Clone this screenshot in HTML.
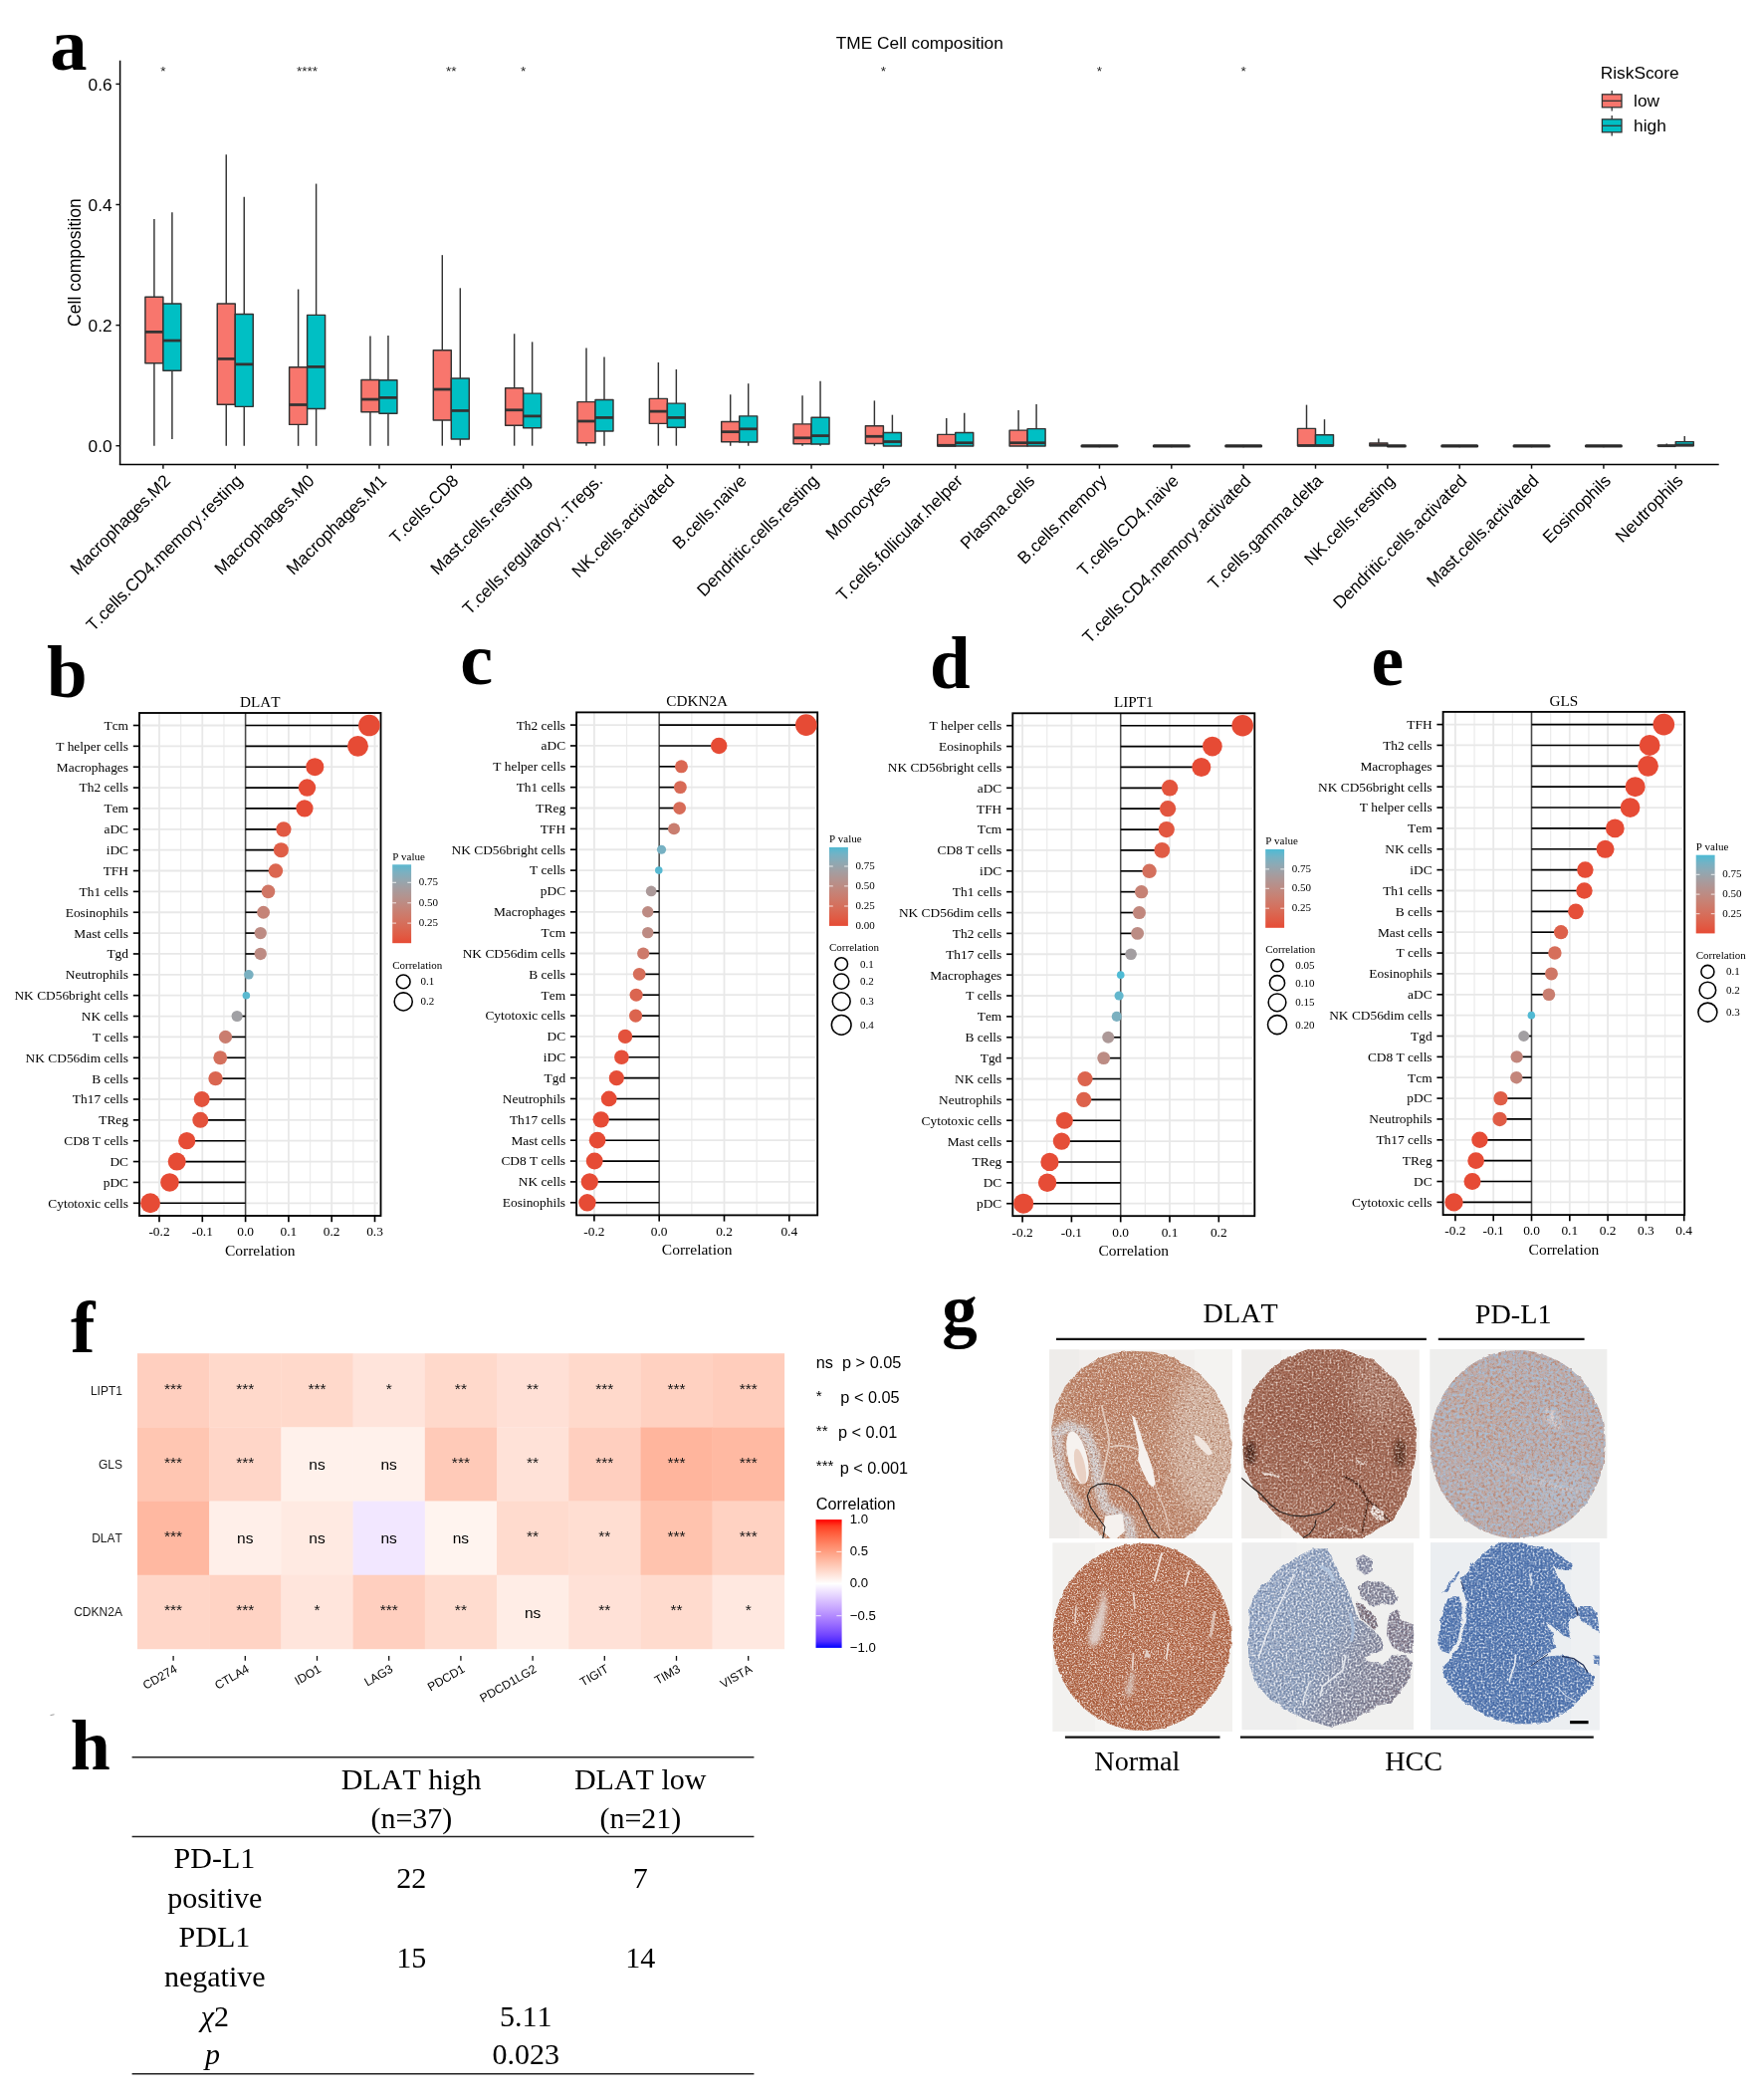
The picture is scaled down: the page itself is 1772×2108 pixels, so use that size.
<!DOCTYPE html>
<html><head><meta charset="utf-8"><title>Figure</title>
<style>
html,body{margin:0;padding:0;background:#fff;}
body{width:1772px;height:2108px;overflow:hidden;font-family:"Liberation Sans",sans-serif;}
svg{display:block;will-change:transform;}
text{white-space:pre;font-kerning:none;}
</style></head><body>
<svg width="1772" height="2108" viewBox="0 0 1772 2108">
<g id="panel-a">
<text x="50.3" y="70.1" font-family='"Liberation Serif", serif' font-size="74.5" text-anchor="start" fill="#000" font-weight="bold">a</text>
<text x="923.8" y="49" font-family='"Liberation Sans", sans-serif' font-size="17.3" text-anchor="middle" fill="#000" >TME Cell composition</text>
<line x1="120.6" y1="60.8" x2="120.6" y2="466.95" stroke="#000" stroke-width="1.5" />
<line x1="119.85" y1="466.5" x2="1726.7" y2="466.5" stroke="#000" stroke-width="1.5" />
<line x1="116.4" y1="447.7" x2="120.6" y2="447.7" stroke="#111" stroke-width="1.45" />
<text x="112.6" y="453.9" font-family='"Liberation Sans", sans-serif' font-size="17.3" text-anchor="end" fill="#000" >0.0</text>
<line x1="116.4" y1="326.6" x2="120.6" y2="326.6" stroke="#111" stroke-width="1.45" />
<text x="112.6" y="332.8" font-family='"Liberation Sans", sans-serif' font-size="17.3" text-anchor="end" fill="#000" >0.2</text>
<line x1="116.4" y1="205.5" x2="120.6" y2="205.5" stroke="#111" stroke-width="1.45" />
<text x="112.6" y="211.7" font-family='"Liberation Sans", sans-serif' font-size="17.3" text-anchor="end" fill="#000" >0.4</text>
<line x1="116.4" y1="84.4" x2="120.6" y2="84.4" stroke="#111" stroke-width="1.45" />
<text x="112.6" y="90.6" font-family='"Liberation Sans", sans-serif' font-size="17.3" text-anchor="end" fill="#000" >0.6</text>
<text transform="translate(80.9,263.6) rotate(-90)" font-family='"Liberation Sans", sans-serif' font-size="17.55" text-anchor="middle" fill="#000">Cell composition</text>
<line x1="154.9" y1="219.93" x2="154.9" y2="298.16" stroke="#333333" stroke-width="1.45" />
<line x1="154.9" y1="364.83" x2="154.9" y2="447.82" stroke="#333333" stroke-width="1.45" />
<rect x="145.9" y="298.16" width="18" height="66.67" fill="#F8766D" stroke="#333333" stroke-width="1.45" stroke-linejoin="round"/>
<line x1="145.9" y1="333.37" x2="163.9" y2="333.37" stroke="#333333" stroke-width="2.75" />
<line x1="172.9" y1="213.13" x2="172.9" y2="304.97" stroke="#333333" stroke-width="1.45" />
<line x1="172.9" y1="372.31" x2="172.9" y2="441.02" stroke="#333333" stroke-width="1.45" />
<rect x="163.9" y="304.97" width="18" height="67.35" fill="#00BFC4" stroke="#333333" stroke-width="1.45" stroke-linejoin="round"/>
<line x1="163.9" y1="342.04" x2="181.9" y2="342.04" stroke="#333333" stroke-width="2.75" />
<line x1="163.9" y1="466.2" x2="163.9" y2="470.7" stroke="#111" stroke-width="1.45" />
<text transform="translate(172.2,483.9) rotate(-45)" font-family='"Liberation Sans", sans-serif' font-size="17.3" text-anchor="end" fill="#000">Macrophages.M2</text>
<line x1="227.25" y1="155.31" x2="227.25" y2="304.97" stroke="#333333" stroke-width="1.45" />
<line x1="227.25" y1="406.33" x2="227.25" y2="447.82" stroke="#333333" stroke-width="1.45" />
<rect x="218.25" y="304.97" width="18" height="101.36" fill="#F8766D" stroke="#333333" stroke-width="1.45" stroke-linejoin="round"/>
<line x1="218.25" y1="360.41" x2="236.25" y2="360.41" stroke="#333333" stroke-width="2.75" />
<line x1="245.25" y1="197.82" x2="245.25" y2="315.51" stroke="#333333" stroke-width="1.45" />
<line x1="245.25" y1="408.37" x2="245.25" y2="447.82" stroke="#333333" stroke-width="1.45" />
<rect x="236.25" y="315.51" width="18" height="92.86" fill="#00BFC4" stroke="#333333" stroke-width="1.45" stroke-linejoin="round"/>
<line x1="236.25" y1="365.85" x2="254.25" y2="365.85" stroke="#333333" stroke-width="2.75" />
<line x1="236.25" y1="466.2" x2="236.25" y2="470.7" stroke="#111" stroke-width="1.45" />
<text transform="translate(244.55,483.9) rotate(-45)" font-family='"Liberation Sans", sans-serif' font-size="17.3" text-anchor="end" fill="#000">T.cells.CD4.memory.resting</text>
<line x1="299.6" y1="290.51" x2="299.6" y2="368.74" stroke="#333333" stroke-width="1.45" />
<line x1="299.6" y1="426.39" x2="299.6" y2="447.82" stroke="#333333" stroke-width="1.45" />
<rect x="290.6" y="368.74" width="18" height="57.65" fill="#F8766D" stroke="#333333" stroke-width="1.45" stroke-linejoin="round"/>
<line x1="290.6" y1="406.5" x2="308.6" y2="406.5" stroke="#333333" stroke-width="2.75" />
<line x1="317.6" y1="184.56" x2="317.6" y2="316.36" stroke="#333333" stroke-width="1.45" />
<line x1="317.6" y1="410.41" x2="317.6" y2="447.82" stroke="#333333" stroke-width="1.45" />
<rect x="308.6" y="316.36" width="18" height="94.05" fill="#00BFC4" stroke="#333333" stroke-width="1.45" stroke-linejoin="round"/>
<line x1="308.6" y1="368.4" x2="326.6" y2="368.4" stroke="#333333" stroke-width="2.75" />
<line x1="308.6" y1="466.2" x2="308.6" y2="470.7" stroke="#111" stroke-width="1.45" />
<text transform="translate(316.9,483.9) rotate(-45)" font-family='"Liberation Sans", sans-serif' font-size="17.3" text-anchor="end" fill="#000">Macrophages.M0</text>
<line x1="371.95" y1="337.62" x2="371.95" y2="381.5" stroke="#333333" stroke-width="1.45" />
<line x1="371.95" y1="413.81" x2="371.95" y2="447.82" stroke="#333333" stroke-width="1.45" />
<rect x="362.95" y="381.5" width="18" height="32.31" fill="#F8766D" stroke="#333333" stroke-width="1.45" stroke-linejoin="round"/>
<line x1="362.95" y1="401.05" x2="380.95" y2="401.05" stroke="#333333" stroke-width="2.75" />
<line x1="389.95" y1="336.94" x2="389.95" y2="381.67" stroke="#333333" stroke-width="1.45" />
<line x1="389.95" y1="415.34" x2="389.95" y2="447.82" stroke="#333333" stroke-width="1.45" />
<rect x="380.95" y="381.67" width="18" height="33.67" fill="#00BFC4" stroke="#333333" stroke-width="1.45" stroke-linejoin="round"/>
<line x1="380.95" y1="399.35" x2="398.95" y2="399.35" stroke="#333333" stroke-width="2.75" />
<line x1="380.95" y1="466.2" x2="380.95" y2="470.7" stroke="#111" stroke-width="1.45" />
<text transform="translate(389.25,483.9) rotate(-45)" font-family='"Liberation Sans", sans-serif' font-size="17.3" text-anchor="end" fill="#000">Macrophages.M1</text>
<line x1="444.3" y1="256.16" x2="444.3" y2="351.73" stroke="#333333" stroke-width="1.45" />
<line x1="444.3" y1="421.97" x2="444.3" y2="447.65" stroke="#333333" stroke-width="1.45" />
<rect x="435.3" y="351.73" width="18" height="70.24" fill="#F8766D" stroke="#333333" stroke-width="1.45" stroke-linejoin="round"/>
<line x1="435.3" y1="391.02" x2="453.3" y2="391.02" stroke="#333333" stroke-width="2.75" />
<line x1="462.3" y1="289.32" x2="462.3" y2="379.97" stroke="#333333" stroke-width="1.45" />
<line x1="462.3" y1="441.02" x2="462.3" y2="447.65" stroke="#333333" stroke-width="1.45" />
<rect x="453.3" y="379.97" width="18" height="61.05" fill="#00BFC4" stroke="#333333" stroke-width="1.45" stroke-linejoin="round"/>
<line x1="453.3" y1="412.45" x2="471.3" y2="412.45" stroke="#333333" stroke-width="2.75" />
<line x1="453.3" y1="466.2" x2="453.3" y2="470.7" stroke="#111" stroke-width="1.45" />
<text transform="translate(461.6,483.9) rotate(-45)" font-family='"Liberation Sans", sans-serif' font-size="17.3" text-anchor="end" fill="#000">T.cells.CD8</text>
<line x1="516.65" y1="335.24" x2="516.65" y2="389.66" stroke="#333333" stroke-width="1.45" />
<line x1="516.65" y1="427.24" x2="516.65" y2="447.65" stroke="#333333" stroke-width="1.45" />
<rect x="507.65" y="389.66" width="18" height="37.59" fill="#F8766D" stroke="#333333" stroke-width="1.45" stroke-linejoin="round"/>
<line x1="507.65" y1="411.77" x2="525.65" y2="411.77" stroke="#333333" stroke-width="2.75" />
<line x1="534.65" y1="343.4" x2="534.65" y2="395.1" stroke="#333333" stroke-width="1.45" />
<line x1="534.65" y1="429.8" x2="534.65" y2="447.65" stroke="#333333" stroke-width="1.45" />
<rect x="525.65" y="395.1" width="18" height="34.69" fill="#00BFC4" stroke="#333333" stroke-width="1.45" stroke-linejoin="round"/>
<line x1="525.65" y1="417.89" x2="543.65" y2="417.89" stroke="#333333" stroke-width="2.75" />
<line x1="525.65" y1="466.2" x2="525.65" y2="470.7" stroke="#111" stroke-width="1.45" />
<text transform="translate(533.95,483.9) rotate(-45)" font-family='"Liberation Sans", sans-serif' font-size="17.3" text-anchor="end" fill="#000">Mast.cells.resting</text>
<line x1="589" y1="349.52" x2="589" y2="403.61" stroke="#333333" stroke-width="1.45" />
<line x1="589" y1="444.76" x2="589" y2="447.65" stroke="#333333" stroke-width="1.45" />
<rect x="580" y="403.61" width="18" height="41.16" fill="#F8766D" stroke="#333333" stroke-width="1.45" stroke-linejoin="round"/>
<line x1="580" y1="422.99" x2="598" y2="422.99" stroke="#333333" stroke-width="2.75" />
<line x1="607" y1="358.54" x2="607" y2="401.56" stroke="#333333" stroke-width="1.45" />
<line x1="607" y1="433.03" x2="607" y2="447.65" stroke="#333333" stroke-width="1.45" />
<rect x="598" y="401.56" width="18" height="31.46" fill="#00BFC4" stroke="#333333" stroke-width="1.45" stroke-linejoin="round"/>
<line x1="598" y1="419.42" x2="616" y2="419.42" stroke="#333333" stroke-width="2.75" />
<line x1="598" y1="466.2" x2="598" y2="470.7" stroke="#111" stroke-width="1.45" />
<text transform="translate(606.3,483.9) rotate(-45)" font-family='"Liberation Sans", sans-serif' font-size="17.3" text-anchor="end" fill="#000">T.cells.regulatory..Tregs.</text>
<line x1="661.35" y1="363.98" x2="661.35" y2="400.37" stroke="#333333" stroke-width="1.45" />
<line x1="661.35" y1="425.37" x2="661.35" y2="447.65" stroke="#333333" stroke-width="1.45" />
<rect x="652.35" y="400.37" width="18" height="25" fill="#F8766D" stroke="#333333" stroke-width="1.45" stroke-linejoin="round"/>
<line x1="652.35" y1="413.13" x2="670.35" y2="413.13" stroke="#333333" stroke-width="2.75" />
<line x1="679.35" y1="370.95" x2="679.35" y2="405.14" stroke="#333333" stroke-width="1.45" />
<line x1="679.35" y1="429.29" x2="679.35" y2="447.65" stroke="#333333" stroke-width="1.45" />
<rect x="670.35" y="405.14" width="18" height="24.15" fill="#00BFC4" stroke="#333333" stroke-width="1.45" stroke-linejoin="round"/>
<line x1="670.35" y1="419.42" x2="688.35" y2="419.42" stroke="#333333" stroke-width="2.75" />
<line x1="670.35" y1="466.2" x2="670.35" y2="470.7" stroke="#111" stroke-width="1.45" />
<text transform="translate(678.65,483.9) rotate(-45)" font-family='"Liberation Sans", sans-serif' font-size="17.3" text-anchor="end" fill="#000">NK.cells.activated</text>
<line x1="733.7" y1="396.26" x2="733.7" y2="423.47" stroke="#333333" stroke-width="1.45" />
<line x1="733.7" y1="443.71" x2="733.7" y2="447.79" stroke="#333333" stroke-width="1.45" />
<rect x="724.7" y="423.47" width="18" height="20.24" fill="#F8766D" stroke="#333333" stroke-width="1.45" stroke-linejoin="round"/>
<line x1="724.7" y1="433.67" x2="742.7" y2="433.67" stroke="#333333" stroke-width="2.75" />
<line x1="751.7" y1="385.2" x2="751.7" y2="417.86" stroke="#333333" stroke-width="1.45" />
<line x1="751.7" y1="444.05" x2="751.7" y2="447.79" stroke="#333333" stroke-width="1.45" />
<rect x="742.7" y="417.86" width="18" height="26.19" fill="#00BFC4" stroke="#333333" stroke-width="1.45" stroke-linejoin="round"/>
<line x1="742.7" y1="430.78" x2="760.7" y2="430.78" stroke="#333333" stroke-width="2.75" />
<line x1="742.7" y1="466.2" x2="742.7" y2="470.7" stroke="#111" stroke-width="1.45" />
<text transform="translate(751,483.9) rotate(-45)" font-family='"Liberation Sans", sans-serif' font-size="17.3" text-anchor="end" fill="#000">B.cells.naive</text>
<line x1="806.05" y1="397.28" x2="806.05" y2="425.85" stroke="#333333" stroke-width="1.45" />
<line x1="806.05" y1="445.75" x2="806.05" y2="447.79" stroke="#333333" stroke-width="1.45" />
<rect x="797.05" y="425.85" width="18" height="19.9" fill="#F8766D" stroke="#333333" stroke-width="1.45" stroke-linejoin="round"/>
<line x1="797.05" y1="439.8" x2="815.05" y2="439.8" stroke="#333333" stroke-width="2.75" />
<line x1="824.05" y1="382.65" x2="824.05" y2="419.22" stroke="#333333" stroke-width="1.45" />
<line x1="824.05" y1="446.09" x2="824.05" y2="447.79" stroke="#333333" stroke-width="1.45" />
<rect x="815.05" y="419.22" width="18" height="26.87" fill="#00BFC4" stroke="#333333" stroke-width="1.45" stroke-linejoin="round"/>
<line x1="815.05" y1="437.59" x2="833.05" y2="437.59" stroke="#333333" stroke-width="2.75" />
<line x1="815.05" y1="466.2" x2="815.05" y2="470.7" stroke="#111" stroke-width="1.45" />
<text transform="translate(823.35,483.9) rotate(-45)" font-family='"Liberation Sans", sans-serif' font-size="17.3" text-anchor="end" fill="#000">Dendritic.cells.resting</text>
<line x1="878.4" y1="402.38" x2="878.4" y2="427.72" stroke="#333333" stroke-width="1.45" />
<line x1="878.4" y1="445.41" x2="878.4" y2="447.79" stroke="#333333" stroke-width="1.45" />
<rect x="869.4" y="427.72" width="18" height="17.69" fill="#F8766D" stroke="#333333" stroke-width="1.45" stroke-linejoin="round"/>
<line x1="869.4" y1="438.27" x2="887.4" y2="438.27" stroke="#333333" stroke-width="2.75" />
<line x1="896.4" y1="416.67" x2="896.4" y2="434.52" stroke="#333333" stroke-width="1.45" />
<line x1="896.4" y1="447.96" x2="896.4" y2="447.96" stroke="#333333" stroke-width="1.45" />
<rect x="887.4" y="434.52" width="18" height="13.44" fill="#00BFC4" stroke="#333333" stroke-width="1.45" stroke-linejoin="round"/>
<line x1="887.4" y1="443.54" x2="905.4" y2="443.54" stroke="#333333" stroke-width="2.75" />
<line x1="887.4" y1="466.2" x2="887.4" y2="470.7" stroke="#111" stroke-width="1.45" />
<text transform="translate(895.7,483.9) rotate(-45)" font-family='"Liberation Sans", sans-serif' font-size="17.3" text-anchor="end" fill="#000">Monocytes</text>
<line x1="950.75" y1="420.07" x2="950.75" y2="436.39" stroke="#333333" stroke-width="1.45" />
<line x1="950.75" y1="447.96" x2="950.75" y2="447.96" stroke="#333333" stroke-width="1.45" />
<rect x="941.75" y="436.39" width="18" height="11.56" fill="#F8766D" stroke="#333333" stroke-width="1.45" stroke-linejoin="round"/>
<line x1="941.75" y1="447.28" x2="959.75" y2="447.28" stroke="#333333" stroke-width="2.75" />
<line x1="968.75" y1="414.63" x2="968.75" y2="434.52" stroke="#333333" stroke-width="1.45" />
<line x1="968.75" y1="447.96" x2="968.75" y2="447.96" stroke="#333333" stroke-width="1.45" />
<rect x="959.75" y="434.52" width="18" height="13.44" fill="#00BFC4" stroke="#333333" stroke-width="1.45" stroke-linejoin="round"/>
<line x1="959.75" y1="444.73" x2="977.75" y2="444.73" stroke="#333333" stroke-width="2.75" />
<line x1="959.75" y1="466.2" x2="959.75" y2="470.7" stroke="#111" stroke-width="1.45" />
<text transform="translate(968.05,483.9) rotate(-45)" font-family='"Liberation Sans", sans-serif' font-size="17.3" text-anchor="end" fill="#000">T.cells.follicular.helper</text>
<line x1="1023.1" y1="411.9" x2="1023.1" y2="432.14" stroke="#333333" stroke-width="1.45" />
<line x1="1023.1" y1="447.96" x2="1023.1" y2="447.96" stroke="#333333" stroke-width="1.45" />
<rect x="1014.1" y="432.14" width="18" height="15.82" fill="#F8766D" stroke="#333333" stroke-width="1.45" stroke-linejoin="round"/>
<line x1="1014.1" y1="444.73" x2="1032.1" y2="444.73" stroke="#333333" stroke-width="2.75" />
<line x1="1041.1" y1="406.12" x2="1041.1" y2="430.61" stroke="#333333" stroke-width="1.45" />
<line x1="1041.1" y1="447.96" x2="1041.1" y2="447.96" stroke="#333333" stroke-width="1.45" />
<rect x="1032.1" y="430.61" width="18" height="17.35" fill="#00BFC4" stroke="#333333" stroke-width="1.45" stroke-linejoin="round"/>
<line x1="1032.1" y1="444.73" x2="1050.1" y2="444.73" stroke="#333333" stroke-width="2.75" />
<line x1="1032.1" y1="466.2" x2="1032.1" y2="470.7" stroke="#111" stroke-width="1.45" />
<text transform="translate(1040.4,483.9) rotate(-45)" font-family='"Liberation Sans", sans-serif' font-size="17.3" text-anchor="end" fill="#000">Plasma.cells</text>
<line x1="1087.05" y1="447.9" x2="1103.85" y2="447.9" stroke="#2b2b2b" stroke-width="3.3" stroke-linecap="round"/>
<line x1="1105.05" y1="447.9" x2="1121.85" y2="447.9" stroke="#2b2b2b" stroke-width="3.3" stroke-linecap="round"/>
<line x1="1104.45" y1="466.2" x2="1104.45" y2="470.7" stroke="#111" stroke-width="1.45" />
<text transform="translate(1112.75,483.9) rotate(-45)" font-family='"Liberation Sans", sans-serif' font-size="17.3" text-anchor="end" fill="#000">B.cells.memory</text>
<line x1="1159.4" y1="447.9" x2="1176.2" y2="447.9" stroke="#2b2b2b" stroke-width="3.3" stroke-linecap="round"/>
<line x1="1177.4" y1="447.9" x2="1194.2" y2="447.9" stroke="#2b2b2b" stroke-width="3.3" stroke-linecap="round"/>
<line x1="1176.8" y1="466.2" x2="1176.8" y2="470.7" stroke="#111" stroke-width="1.45" />
<text transform="translate(1185.1,483.9) rotate(-45)" font-family='"Liberation Sans", sans-serif' font-size="17.3" text-anchor="end" fill="#000">T.cells.CD4.naive</text>
<line x1="1231.75" y1="447.9" x2="1248.55" y2="447.9" stroke="#2b2b2b" stroke-width="3.3" stroke-linecap="round"/>
<line x1="1249.75" y1="447.9" x2="1266.55" y2="447.9" stroke="#2b2b2b" stroke-width="3.3" stroke-linecap="round"/>
<line x1="1249.15" y1="466.2" x2="1249.15" y2="470.7" stroke="#111" stroke-width="1.45" />
<text transform="translate(1257.45,483.9) rotate(-45)" font-family='"Liberation Sans", sans-serif' font-size="17.3" text-anchor="end" fill="#000">T.cells.CD4.memory.activated</text>
<line x1="1312.5" y1="406.63" x2="1312.5" y2="430.36" stroke="#333333" stroke-width="1.45" />
<line x1="1312.5" y1="447.7" x2="1312.5" y2="447.7" stroke="#333333" stroke-width="1.45" />
<rect x="1303.5" y="430.36" width="18" height="17.35" fill="#F8766D" stroke="#333333" stroke-width="1.45" stroke-linejoin="round"/>
<line x1="1303.5" y1="447.45" x2="1321.5" y2="447.45" stroke="#333333" stroke-width="2.75" />
<line x1="1330.5" y1="421.17" x2="1330.5" y2="436.73" stroke="#333333" stroke-width="1.45" />
<line x1="1330.5" y1="447.7" x2="1330.5" y2="447.7" stroke="#333333" stroke-width="1.45" />
<rect x="1321.5" y="436.73" width="18" height="10.97" fill="#00BFC4" stroke="#333333" stroke-width="1.45" stroke-linejoin="round"/>
<line x1="1321.5" y1="447.45" x2="1339.5" y2="447.45" stroke="#333333" stroke-width="2.75" />
<line x1="1321.5" y1="466.2" x2="1321.5" y2="470.7" stroke="#111" stroke-width="1.45" />
<text transform="translate(1329.8,483.9) rotate(-45)" font-family='"Liberation Sans", sans-serif' font-size="17.3" text-anchor="end" fill="#000">T.cells.gamma.delta</text>
<line x1="1384.85" y1="440.56" x2="1384.85" y2="444.9" stroke="#333333" stroke-width="1.45" />
<line x1="1384.85" y1="447.7" x2="1384.85" y2="447.7" stroke="#333333" stroke-width="1.45" />
<rect x="1375.85" y="444.9" width="18" height="2.81" fill="#F8766D" stroke="#333333" stroke-width="1.45" stroke-linejoin="round"/>
<line x1="1375.85" y1="446.94" x2="1393.85" y2="446.94" stroke="#333333" stroke-width="2.75" />
<line x1="1394.45" y1="447.9" x2="1411.25" y2="447.9" stroke="#2b2b2b" stroke-width="3.3" stroke-linecap="round"/>
<line x1="1393.85" y1="466.2" x2="1393.85" y2="470.7" stroke="#111" stroke-width="1.45" />
<text transform="translate(1402.15,483.9) rotate(-45)" font-family='"Liberation Sans", sans-serif' font-size="17.3" text-anchor="end" fill="#000">NK.cells.resting</text>
<line x1="1448.8" y1="447.9" x2="1465.6" y2="447.9" stroke="#2b2b2b" stroke-width="3.3" stroke-linecap="round"/>
<line x1="1466.8" y1="447.9" x2="1483.6" y2="447.9" stroke="#2b2b2b" stroke-width="3.3" stroke-linecap="round"/>
<line x1="1466.2" y1="466.2" x2="1466.2" y2="470.7" stroke="#111" stroke-width="1.45" />
<text transform="translate(1474.5,483.9) rotate(-45)" font-family='"Liberation Sans", sans-serif' font-size="17.3" text-anchor="end" fill="#000">Dendritic.cells.activated</text>
<line x1="1521.15" y1="447.9" x2="1537.95" y2="447.9" stroke="#2b2b2b" stroke-width="3.3" stroke-linecap="round"/>
<line x1="1539.15" y1="447.9" x2="1555.95" y2="447.9" stroke="#2b2b2b" stroke-width="3.3" stroke-linecap="round"/>
<line x1="1538.55" y1="466.2" x2="1538.55" y2="470.7" stroke="#111" stroke-width="1.45" />
<text transform="translate(1546.85,483.9) rotate(-45)" font-family='"Liberation Sans", sans-serif' font-size="17.3" text-anchor="end" fill="#000">Mast.cells.activated</text>
<line x1="1593.5" y1="447.9" x2="1610.3" y2="447.9" stroke="#2b2b2b" stroke-width="3.3" stroke-linecap="round"/>
<line x1="1611.5" y1="447.9" x2="1628.3" y2="447.9" stroke="#2b2b2b" stroke-width="3.3" stroke-linecap="round"/>
<line x1="1610.9" y1="466.2" x2="1610.9" y2="470.7" stroke="#111" stroke-width="1.45" />
<text transform="translate(1619.2,483.9) rotate(-45)" font-family='"Liberation Sans", sans-serif' font-size="17.3" text-anchor="end" fill="#000">Eosinophils</text>
<line x1="1674.25" y1="445.4" x2="1674.25" y2="447.3" stroke="#333333" stroke-width="1.45" />
<line x1="1674.25" y1="447.7" x2="1674.25" y2="447.7" stroke="#333333" stroke-width="1.45" />
<rect x="1665.25" y="447.3" width="18" height="0.4" fill="#F8766D" stroke="#333333" stroke-width="1.45" stroke-linejoin="round"/>
<line x1="1665.25" y1="447.7" x2="1683.25" y2="447.7" stroke="#333333" stroke-width="2.75" />
<line x1="1692.25" y1="438.01" x2="1692.25" y2="443.62" stroke="#333333" stroke-width="1.45" />
<line x1="1692.25" y1="447.7" x2="1692.25" y2="447.7" stroke="#333333" stroke-width="1.45" />
<rect x="1683.25" y="443.62" width="18" height="4.08" fill="#00BFC4" stroke="#333333" stroke-width="1.45" stroke-linejoin="round"/>
<line x1="1683.25" y1="446.94" x2="1701.25" y2="446.94" stroke="#333333" stroke-width="2.75" />
<line x1="1683.25" y1="466.2" x2="1683.25" y2="470.7" stroke="#111" stroke-width="1.45" />
<text transform="translate(1691.55,483.9) rotate(-45)" font-family='"Liberation Sans", sans-serif' font-size="17.3" text-anchor="end" fill="#000">Neutrophils</text>
<text x="163.9" y="76.2" font-family='"Liberation Sans", sans-serif' font-size="13.6" text-anchor="middle" fill="#222" >*</text>
<text x="308.6" y="76.2" font-family='"Liberation Sans", sans-serif' font-size="13.6" text-anchor="middle" fill="#222" >****</text>
<text x="453.3" y="76.2" font-family='"Liberation Sans", sans-serif' font-size="13.6" text-anchor="middle" fill="#222" >**</text>
<text x="525.65" y="76.2" font-family='"Liberation Sans", sans-serif' font-size="13.6" text-anchor="middle" fill="#222" >*</text>
<text x="887.4" y="76.2" font-family='"Liberation Sans", sans-serif' font-size="13.6" text-anchor="middle" fill="#222" >*</text>
<text x="1104.45" y="76.2" font-family='"Liberation Sans", sans-serif' font-size="13.6" text-anchor="middle" fill="#222" >*</text>
<text x="1249.15" y="76.2" font-family='"Liberation Sans", sans-serif' font-size="13.6" text-anchor="middle" fill="#222" >*</text>
<text x="1607.8" y="78.5" font-family='"Liberation Sans", sans-serif' font-size="17.3" text-anchor="start" fill="#000" >RiskScore</text>
<line x1="1619.2" y1="91" x2="1619.2" y2="111.6" stroke="#333333" stroke-width="1.3" />
<rect x="1609.4" y="94.8" width="19.6" height="13" fill="#F8766D" stroke="#333333" stroke-width="1.3" />
<line x1="1609.4" y1="101.3" x2="1629" y2="101.3" stroke="#333333" stroke-width="1.3" />
<text x="1641.1" y="107.4" font-family='"Liberation Sans", sans-serif' font-size="17.3" text-anchor="start" fill="#000" >low</text>
<line x1="1619.2" y1="116" x2="1619.2" y2="136.6" stroke="#333333" stroke-width="1.3" />
<rect x="1609.4" y="119.8" width="19.6" height="13" fill="#00BFC4" stroke="#333333" stroke-width="1.3" />
<line x1="1609.4" y1="126.3" x2="1629" y2="126.3" stroke="#333333" stroke-width="1.3" />
<text x="1641.1" y="132.4" font-family='"Liberation Sans", sans-serif' font-size="17.3" text-anchor="start" fill="#000" >high</text>
</g>
<g id="panel-b">
<text x="47" y="699.5" font-family='"Liberation Serif", serif' font-size="73" text-anchor="start" fill="#000" font-weight="bold">b</text>
<text x="261.25" y="709.7" font-family='"Liberation Serif", serif' font-size="15.2" text-anchor="middle" fill="#000" >DLAT</text>
<line x1="181.65" y1="716" x2="181.65" y2="1221" stroke="#ececec" stroke-width="1.25" />
<line x1="224.95" y1="716" x2="224.95" y2="1221" stroke="#ececec" stroke-width="1.25" />
<line x1="268.25" y1="716" x2="268.25" y2="1221" stroke="#ececec" stroke-width="1.25" />
<line x1="311.55" y1="716" x2="311.55" y2="1221" stroke="#ececec" stroke-width="1.25" />
<line x1="354.85" y1="716" x2="354.85" y2="1221" stroke="#ececec" stroke-width="1.25" />
<line x1="160" y1="716" x2="160" y2="1221" stroke="#e8e8e8" stroke-width="1.8" />
<line x1="203.3" y1="716" x2="203.3" y2="1221" stroke="#e8e8e8" stroke-width="1.8" />
<line x1="246.6" y1="716" x2="246.6" y2="1221" stroke="#e8e8e8" stroke-width="1.8" />
<line x1="289.9" y1="716" x2="289.9" y2="1221" stroke="#e8e8e8" stroke-width="1.8" />
<line x1="333.2" y1="716" x2="333.2" y2="1221" stroke="#e8e8e8" stroke-width="1.8" />
<line x1="376.5" y1="716" x2="376.5" y2="1221" stroke="#e8e8e8" stroke-width="1.8" />
<line x1="142" y1="728.5" x2="380.1" y2="728.5" stroke="#e8e8e8" stroke-width="1.8" />
<line x1="142" y1="749.36" x2="380.1" y2="749.36" stroke="#e8e8e8" stroke-width="1.8" />
<line x1="142" y1="770.22" x2="380.1" y2="770.22" stroke="#e8e8e8" stroke-width="1.8" />
<line x1="142" y1="791.08" x2="380.1" y2="791.08" stroke="#e8e8e8" stroke-width="1.8" />
<line x1="142" y1="811.94" x2="380.1" y2="811.94" stroke="#e8e8e8" stroke-width="1.8" />
<line x1="142" y1="832.8" x2="380.1" y2="832.8" stroke="#e8e8e8" stroke-width="1.8" />
<line x1="142" y1="853.66" x2="380.1" y2="853.66" stroke="#e8e8e8" stroke-width="1.8" />
<line x1="142" y1="874.52" x2="380.1" y2="874.52" stroke="#e8e8e8" stroke-width="1.8" />
<line x1="142" y1="895.38" x2="380.1" y2="895.38" stroke="#e8e8e8" stroke-width="1.8" />
<line x1="142" y1="916.24" x2="380.1" y2="916.24" stroke="#e8e8e8" stroke-width="1.8" />
<line x1="142" y1="937.1" x2="380.1" y2="937.1" stroke="#e8e8e8" stroke-width="1.8" />
<line x1="142" y1="957.96" x2="380.1" y2="957.96" stroke="#e8e8e8" stroke-width="1.8" />
<line x1="142" y1="978.82" x2="380.1" y2="978.82" stroke="#e8e8e8" stroke-width="1.8" />
<line x1="142" y1="999.68" x2="380.1" y2="999.68" stroke="#e8e8e8" stroke-width="1.8" />
<line x1="142" y1="1020.54" x2="380.1" y2="1020.54" stroke="#e8e8e8" stroke-width="1.8" />
<line x1="142" y1="1041.4" x2="380.1" y2="1041.4" stroke="#e8e8e8" stroke-width="1.8" />
<line x1="142" y1="1062.26" x2="380.1" y2="1062.26" stroke="#e8e8e8" stroke-width="1.8" />
<line x1="142" y1="1083.12" x2="380.1" y2="1083.12" stroke="#e8e8e8" stroke-width="1.8" />
<line x1="142" y1="1103.98" x2="380.1" y2="1103.98" stroke="#e8e8e8" stroke-width="1.8" />
<line x1="142" y1="1124.84" x2="380.1" y2="1124.84" stroke="#e8e8e8" stroke-width="1.8" />
<line x1="142" y1="1145.7" x2="380.1" y2="1145.7" stroke="#e8e8e8" stroke-width="1.8" />
<line x1="142" y1="1166.56" x2="380.1" y2="1166.56" stroke="#e8e8e8" stroke-width="1.8" />
<line x1="142" y1="1187.42" x2="380.1" y2="1187.42" stroke="#e8e8e8" stroke-width="1.8" />
<line x1="142" y1="1208.28" x2="380.1" y2="1208.28" stroke="#e8e8e8" stroke-width="1.8" />
<line x1="246.6" y1="716" x2="246.6" y2="1221" stroke="#4a4a4a" stroke-width="1.5" />
<line x1="246.6" y1="728.5" x2="370.91" y2="728.5" stroke="#000" stroke-width="1.65" />
<line x1="246.6" y1="749.36" x2="359.48" y2="749.36" stroke="#000" stroke-width="1.65" />
<line x1="246.6" y1="770.22" x2="316.3" y2="770.22" stroke="#000" stroke-width="1.65" />
<line x1="246.6" y1="791.08" x2="308.5" y2="791.08" stroke="#000" stroke-width="1.65" />
<line x1="246.6" y1="811.94" x2="305.96" y2="811.94" stroke="#000" stroke-width="1.65" />
<line x1="246.6" y1="832.8" x2="284.92" y2="832.8" stroke="#000" stroke-width="1.65" />
<line x1="246.6" y1="853.66" x2="282.38" y2="853.66" stroke="#000" stroke-width="1.65" />
<line x1="246.6" y1="874.52" x2="276.94" y2="874.52" stroke="#000" stroke-width="1.65" />
<line x1="246.6" y1="895.38" x2="269.5" y2="895.38" stroke="#000" stroke-width="1.65" />
<line x1="246.6" y1="916.24" x2="264.6" y2="916.24" stroke="#000" stroke-width="1.65" />
<line x1="246.6" y1="937.1" x2="261.7" y2="937.1" stroke="#000" stroke-width="1.65" />
<line x1="246.6" y1="957.96" x2="261.7" y2="957.96" stroke="#000" stroke-width="1.65" />
<line x1="246.6" y1="978.82" x2="249.91" y2="978.82" stroke="#000" stroke-width="1.65" />
<line x1="246.6" y1="999.68" x2="247.37" y2="999.68" stroke="#000" stroke-width="1.65" />
<line x1="246.6" y1="1020.54" x2="238.12" y2="1020.54" stroke="#000" stroke-width="1.65" />
<line x1="246.6" y1="1041.4" x2="226.51" y2="1041.4" stroke="#000" stroke-width="1.65" />
<line x1="246.6" y1="1062.26" x2="221.25" y2="1062.26" stroke="#000" stroke-width="1.65" />
<line x1="246.6" y1="1083.12" x2="216.53" y2="1083.12" stroke="#000" stroke-width="1.65" />
<line x1="246.6" y1="1103.98" x2="202.74" y2="1103.98" stroke="#000" stroke-width="1.65" />
<line x1="246.6" y1="1124.84" x2="201.29" y2="1124.84" stroke="#000" stroke-width="1.65" />
<line x1="246.6" y1="1145.7" x2="187.69" y2="1145.7" stroke="#000" stroke-width="1.65" />
<line x1="246.6" y1="1166.56" x2="177.71" y2="1166.56" stroke="#000" stroke-width="1.65" />
<line x1="246.6" y1="1187.42" x2="170.45" y2="1187.42" stroke="#000" stroke-width="1.65" />
<line x1="246.6" y1="1208.28" x2="151.04" y2="1208.28" stroke="#000" stroke-width="1.65" />
<rect x="140" y="716" width="242.5" height="505" fill="none" stroke="#000" stroke-width="1.85" />
<clipPath id="clip-b"><rect x="139.8" y="716" width="242.9" height="505"/></clipPath>
<g clip-path="url(#clip-b)">
<circle cx="370.91" cy="728.5" r="10.8" fill="#e64b35"/>
<circle cx="359.48" cy="749.36" r="10.47" fill="#e64b35"/>
<circle cx="316.3" cy="770.22" r="9.03" fill="#e64b35"/>
<circle cx="308.5" cy="791.08" r="8.72" fill="#e64c36"/>
<circle cx="305.96" cy="811.94" r="8.62" fill="#e64c36"/>
<circle cx="284.92" cy="832.8" r="7.66" fill="#e15943"/>
<circle cx="282.38" cy="853.66" r="7.53" fill="#df5d46"/>
<circle cx="276.94" cy="874.52" r="7.22" fill="#db6650"/>
<circle cx="269.5" cy="895.38" r="6.76" fill="#d07665"/>
<circle cx="264.6" cy="916.24" r="6.41" fill="#c58377"/>
<circle cx="261.7" cy="937.1" r="6.18" fill="#bd8b83"/>
<circle cx="261.7" cy="957.96" r="6.18" fill="#bd8b83"/>
<circle cx="249.91" cy="978.82" r="4.8" fill="#79b0c1"/>
<circle cx="247.37" cy="999.68" r="3.8" fill="#5ab9d0"/>
<circle cx="238.12" cy="1020.54" r="5.55" fill="#a0a0a4"/>
<circle cx="226.51" cy="1041.4" r="6.57" fill="#ca7d6f"/>
<circle cx="221.25" cy="1062.26" r="6.92" fill="#d4705d"/>
<circle cx="216.53" cy="1083.12" r="7.21" fill="#da6651"/>
<circle cx="202.74" cy="1103.98" r="7.93" fill="#e3533d"/>
<circle cx="201.29" cy="1124.84" r="8" fill="#e3523c"/>
<circle cx="187.69" cy="1145.7" r="8.6" fill="#e64c36"/>
<circle cx="177.71" cy="1166.56" r="9" fill="#e64b35"/>
<circle cx="170.45" cy="1187.42" r="9.27" fill="#e64b35"/>
<circle cx="151.04" cy="1208.28" r="9.93" fill="#e64b35"/>
</g>
<line x1="133.8" y1="728.5" x2="140" y2="728.5" stroke="#000" stroke-width="1.65" />
<text x="129" y="732.9" font-family='"Liberation Serif", serif' font-size="13.4" text-anchor="end" fill="#000" >Tcm</text>
<line x1="133.8" y1="749.36" x2="140" y2="749.36" stroke="#000" stroke-width="1.65" />
<text x="129" y="753.76" font-family='"Liberation Serif", serif' font-size="13.4" text-anchor="end" fill="#000" >T helper cells</text>
<line x1="133.8" y1="770.22" x2="140" y2="770.22" stroke="#000" stroke-width="1.65" />
<text x="129" y="774.62" font-family='"Liberation Serif", serif' font-size="13.4" text-anchor="end" fill="#000" >Macrophages</text>
<line x1="133.8" y1="791.08" x2="140" y2="791.08" stroke="#000" stroke-width="1.65" />
<text x="129" y="795.48" font-family='"Liberation Serif", serif' font-size="13.4" text-anchor="end" fill="#000" >Th2 cells</text>
<line x1="133.8" y1="811.94" x2="140" y2="811.94" stroke="#000" stroke-width="1.65" />
<text x="129" y="816.34" font-family='"Liberation Serif", serif' font-size="13.4" text-anchor="end" fill="#000" >Tem</text>
<line x1="133.8" y1="832.8" x2="140" y2="832.8" stroke="#000" stroke-width="1.65" />
<text x="129" y="837.2" font-family='"Liberation Serif", serif' font-size="13.4" text-anchor="end" fill="#000" >aDC</text>
<line x1="133.8" y1="853.66" x2="140" y2="853.66" stroke="#000" stroke-width="1.65" />
<text x="129" y="858.06" font-family='"Liberation Serif", serif' font-size="13.4" text-anchor="end" fill="#000" >iDC</text>
<line x1="133.8" y1="874.52" x2="140" y2="874.52" stroke="#000" stroke-width="1.65" />
<text x="129" y="878.92" font-family='"Liberation Serif", serif' font-size="13.4" text-anchor="end" fill="#000" >TFH</text>
<line x1="133.8" y1="895.38" x2="140" y2="895.38" stroke="#000" stroke-width="1.65" />
<text x="129" y="899.78" font-family='"Liberation Serif", serif' font-size="13.4" text-anchor="end" fill="#000" >Th1 cells</text>
<line x1="133.8" y1="916.24" x2="140" y2="916.24" stroke="#000" stroke-width="1.65" />
<text x="129" y="920.64" font-family='"Liberation Serif", serif' font-size="13.4" text-anchor="end" fill="#000" >Eosinophils</text>
<line x1="133.8" y1="937.1" x2="140" y2="937.1" stroke="#000" stroke-width="1.65" />
<text x="129" y="941.5" font-family='"Liberation Serif", serif' font-size="13.4" text-anchor="end" fill="#000" >Mast cells</text>
<line x1="133.8" y1="957.96" x2="140" y2="957.96" stroke="#000" stroke-width="1.65" />
<text x="129" y="962.36" font-family='"Liberation Serif", serif' font-size="13.4" text-anchor="end" fill="#000" >Tgd</text>
<line x1="133.8" y1="978.82" x2="140" y2="978.82" stroke="#000" stroke-width="1.65" />
<text x="129" y="983.22" font-family='"Liberation Serif", serif' font-size="13.4" text-anchor="end" fill="#000" >Neutrophils</text>
<line x1="133.8" y1="999.68" x2="140" y2="999.68" stroke="#000" stroke-width="1.65" />
<text x="129" y="1004.08" font-family='"Liberation Serif", serif' font-size="13.4" text-anchor="end" fill="#000" >NK CD56bright cells</text>
<line x1="133.8" y1="1020.54" x2="140" y2="1020.54" stroke="#000" stroke-width="1.65" />
<text x="129" y="1024.94" font-family='"Liberation Serif", serif' font-size="13.4" text-anchor="end" fill="#000" >NK cells</text>
<line x1="133.8" y1="1041.4" x2="140" y2="1041.4" stroke="#000" stroke-width="1.65" />
<text x="129" y="1045.8" font-family='"Liberation Serif", serif' font-size="13.4" text-anchor="end" fill="#000" >T cells</text>
<line x1="133.8" y1="1062.26" x2="140" y2="1062.26" stroke="#000" stroke-width="1.65" />
<text x="129" y="1066.66" font-family='"Liberation Serif", serif' font-size="13.4" text-anchor="end" fill="#000" >NK CD56dim cells</text>
<line x1="133.8" y1="1083.12" x2="140" y2="1083.12" stroke="#000" stroke-width="1.65" />
<text x="129" y="1087.52" font-family='"Liberation Serif", serif' font-size="13.4" text-anchor="end" fill="#000" >B cells</text>
<line x1="133.8" y1="1103.98" x2="140" y2="1103.98" stroke="#000" stroke-width="1.65" />
<text x="129" y="1108.38" font-family='"Liberation Serif", serif' font-size="13.4" text-anchor="end" fill="#000" >Th17 cells</text>
<line x1="133.8" y1="1124.84" x2="140" y2="1124.84" stroke="#000" stroke-width="1.65" />
<text x="129" y="1129.24" font-family='"Liberation Serif", serif' font-size="13.4" text-anchor="end" fill="#000" >TReg</text>
<line x1="133.8" y1="1145.7" x2="140" y2="1145.7" stroke="#000" stroke-width="1.65" />
<text x="129" y="1150.1" font-family='"Liberation Serif", serif' font-size="13.4" text-anchor="end" fill="#000" >CD8 T cells</text>
<line x1="133.8" y1="1166.56" x2="140" y2="1166.56" stroke="#000" stroke-width="1.65" />
<text x="129" y="1170.96" font-family='"Liberation Serif", serif' font-size="13.4" text-anchor="end" fill="#000" >DC</text>
<line x1="133.8" y1="1187.42" x2="140" y2="1187.42" stroke="#000" stroke-width="1.65" />
<text x="129" y="1191.82" font-family='"Liberation Serif", serif' font-size="13.4" text-anchor="end" fill="#000" >pDC</text>
<line x1="133.8" y1="1208.28" x2="140" y2="1208.28" stroke="#000" stroke-width="1.65" />
<text x="129" y="1212.68" font-family='"Liberation Serif", serif' font-size="13.4" text-anchor="end" fill="#000" >Cytotoxic cells</text>
<line x1="160" y1="1221" x2="160" y2="1227.2" stroke="#000" stroke-width="1.65" />
<text x="160" y="1241.3" font-family='"Liberation Serif", serif' font-size="13.4" text-anchor="middle" fill="#000" >-0.2</text>
<line x1="203.3" y1="1221" x2="203.3" y2="1227.2" stroke="#000" stroke-width="1.65" />
<text x="203.3" y="1241.3" font-family='"Liberation Serif", serif' font-size="13.4" text-anchor="middle" fill="#000" >-0.1</text>
<line x1="246.6" y1="1221" x2="246.6" y2="1227.2" stroke="#000" stroke-width="1.65" />
<text x="246.6" y="1241.3" font-family='"Liberation Serif", serif' font-size="13.4" text-anchor="middle" fill="#000" >0.0</text>
<line x1="289.9" y1="1221" x2="289.9" y2="1227.2" stroke="#000" stroke-width="1.65" />
<text x="289.9" y="1241.3" font-family='"Liberation Serif", serif' font-size="13.4" text-anchor="middle" fill="#000" >0.1</text>
<line x1="333.2" y1="1221" x2="333.2" y2="1227.2" stroke="#000" stroke-width="1.65" />
<text x="333.2" y="1241.3" font-family='"Liberation Serif", serif' font-size="13.4" text-anchor="middle" fill="#000" >0.2</text>
<line x1="376.5" y1="1221" x2="376.5" y2="1227.2" stroke="#000" stroke-width="1.65" />
<text x="376.5" y="1241.3" font-family='"Liberation Serif", serif' font-size="13.4" text-anchor="middle" fill="#000" >0.3</text>
<text x="261.25" y="1260.6" font-family='"Liberation Serif", serif' font-size="15.5" text-anchor="middle" fill="#000" >Correlation</text>
<text x="394.2" y="863.6" font-family='"Liberation Serif", serif' font-size="11" text-anchor="start" fill="#000" >P value</text>
<linearGradient id="pg-b" x1="0" y1="0" x2="0" y2="1"><stop offset="0%" stop-color="#5bb8d0"/><stop offset="10%" stop-color="#7cb0c0"/><stop offset="20%" stop-color="#93a7b0"/><stop offset="30%" stop-color="#a49da0"/><stop offset="40%" stop-color="#b29490"/><stop offset="50%" stop-color="#be8a81"/><stop offset="60%" stop-color="#c97f71"/><stop offset="70%" stop-color="#d27462"/><stop offset="80%" stop-color="#d96853"/><stop offset="90%" stop-color="#e05b44"/><stop offset="100%" stop-color="#e64b35"/></linearGradient>
<rect x="394.2" y="868.3" width="18.9" height="78.9" fill="url(#pg-b)" stroke="none" stroke-width="1" />
<line x1="394.2" y1="886.3" x2="398" y2="886.3" stroke="#fff" stroke-width="0.8" />
<line x1="409.3" y1="886.3" x2="413.1" y2="886.3" stroke="#fff" stroke-width="0.8" />
<text x="420.8" y="889.4" font-family='"Liberation Serif", serif' font-size="11" text-anchor="start" fill="#000" >0.75</text>
<line x1="394.2" y1="906.8" x2="398" y2="906.8" stroke="#fff" stroke-width="0.8" />
<line x1="409.3" y1="906.8" x2="413.1" y2="906.8" stroke="#fff" stroke-width="0.8" />
<text x="420.8" y="909.9" font-family='"Liberation Serif", serif' font-size="11" text-anchor="start" fill="#000" >0.50</text>
<line x1="394.2" y1="927.1" x2="398" y2="927.1" stroke="#fff" stroke-width="0.8" />
<line x1="409.3" y1="927.1" x2="413.1" y2="927.1" stroke="#fff" stroke-width="0.8" />
<text x="420.8" y="930.2" font-family='"Liberation Serif", serif' font-size="11" text-anchor="start" fill="#000" >0.25</text>
<text x="394.2" y="972.6" font-family='"Liberation Serif", serif' font-size="11" text-anchor="start" fill="#000" >Correlation</text>
<circle cx="405.2" cy="985.9" r="6.85" fill="none" stroke="#000" stroke-width="1.55"/>
<text x="422.6" y="989.3" font-family='"Liberation Serif", serif' font-size="11" text-anchor="start" fill="#000" >0.1</text>
<circle cx="405.2" cy="1005.9" r="9.05" fill="none" stroke="#000" stroke-width="1.55"/>
<text x="422.6" y="1009.3" font-family='"Liberation Serif", serif' font-size="11" text-anchor="start" fill="#000" >0.2</text>
</g>
<g id="panel-c">
<text x="462.2" y="687" font-family='"Liberation Serif", serif' font-size="74" text-anchor="start" fill="#000" font-weight="bold">c</text>
<text x="700.15" y="709.1" font-family='"Liberation Serif", serif' font-size="15.2" text-anchor="middle" fill="#000" >CDKN2A</text>
<line x1="629.55" y1="715.4" x2="629.55" y2="1220.4" stroke="#ececec" stroke-width="1.25" />
<line x1="694.85" y1="715.4" x2="694.85" y2="1220.4" stroke="#ececec" stroke-width="1.25" />
<line x1="760.15" y1="715.4" x2="760.15" y2="1220.4" stroke="#ececec" stroke-width="1.25" />
<line x1="596.9" y1="715.4" x2="596.9" y2="1220.4" stroke="#e8e8e8" stroke-width="1.8" />
<line x1="662.2" y1="715.4" x2="662.2" y2="1220.4" stroke="#e8e8e8" stroke-width="1.8" />
<line x1="727.5" y1="715.4" x2="727.5" y2="1220.4" stroke="#e8e8e8" stroke-width="1.8" />
<line x1="792.8" y1="715.4" x2="792.8" y2="1220.4" stroke="#e8e8e8" stroke-width="1.8" />
<line x1="581.1" y1="728.1" x2="818.8" y2="728.1" stroke="#e8e8e8" stroke-width="1.8" />
<line x1="581.1" y1="748.96" x2="818.8" y2="748.96" stroke="#e8e8e8" stroke-width="1.8" />
<line x1="581.1" y1="769.81" x2="818.8" y2="769.81" stroke="#e8e8e8" stroke-width="1.8" />
<line x1="581.1" y1="790.66" x2="818.8" y2="790.66" stroke="#e8e8e8" stroke-width="1.8" />
<line x1="581.1" y1="811.52" x2="818.8" y2="811.52" stroke="#e8e8e8" stroke-width="1.8" />
<line x1="581.1" y1="832.38" x2="818.8" y2="832.38" stroke="#e8e8e8" stroke-width="1.8" />
<line x1="581.1" y1="853.23" x2="818.8" y2="853.23" stroke="#e8e8e8" stroke-width="1.8" />
<line x1="581.1" y1="874.09" x2="818.8" y2="874.09" stroke="#e8e8e8" stroke-width="1.8" />
<line x1="581.1" y1="894.94" x2="818.8" y2="894.94" stroke="#e8e8e8" stroke-width="1.8" />
<line x1="581.1" y1="915.8" x2="818.8" y2="915.8" stroke="#e8e8e8" stroke-width="1.8" />
<line x1="581.1" y1="936.65" x2="818.8" y2="936.65" stroke="#e8e8e8" stroke-width="1.8" />
<line x1="581.1" y1="957.5" x2="818.8" y2="957.5" stroke="#e8e8e8" stroke-width="1.8" />
<line x1="581.1" y1="978.36" x2="818.8" y2="978.36" stroke="#e8e8e8" stroke-width="1.8" />
<line x1="581.1" y1="999.22" x2="818.8" y2="999.22" stroke="#e8e8e8" stroke-width="1.8" />
<line x1="581.1" y1="1020.07" x2="818.8" y2="1020.07" stroke="#e8e8e8" stroke-width="1.8" />
<line x1="581.1" y1="1040.92" x2="818.8" y2="1040.92" stroke="#e8e8e8" stroke-width="1.8" />
<line x1="581.1" y1="1061.78" x2="818.8" y2="1061.78" stroke="#e8e8e8" stroke-width="1.8" />
<line x1="581.1" y1="1082.63" x2="818.8" y2="1082.63" stroke="#e8e8e8" stroke-width="1.8" />
<line x1="581.1" y1="1103.49" x2="818.8" y2="1103.49" stroke="#e8e8e8" stroke-width="1.8" />
<line x1="581.1" y1="1124.35" x2="818.8" y2="1124.35" stroke="#e8e8e8" stroke-width="1.8" />
<line x1="581.1" y1="1145.2" x2="818.8" y2="1145.2" stroke="#e8e8e8" stroke-width="1.8" />
<line x1="581.1" y1="1166.06" x2="818.8" y2="1166.06" stroke="#e8e8e8" stroke-width="1.8" />
<line x1="581.1" y1="1186.91" x2="818.8" y2="1186.91" stroke="#e8e8e8" stroke-width="1.8" />
<line x1="581.1" y1="1207.77" x2="818.8" y2="1207.77" stroke="#e8e8e8" stroke-width="1.8" />
<line x1="662.2" y1="715.4" x2="662.2" y2="1220.4" stroke="#4a4a4a" stroke-width="1.5" />
<line x1="662.2" y1="728.1" x2="809.82" y2="728.1" stroke="#000" stroke-width="1.65" />
<line x1="662.2" y1="748.96" x2="722.2" y2="748.96" stroke="#000" stroke-width="1.65" />
<line x1="662.2" y1="769.81" x2="684.47" y2="769.81" stroke="#000" stroke-width="1.65" />
<line x1="662.2" y1="790.66" x2="683.38" y2="790.66" stroke="#000" stroke-width="1.65" />
<line x1="662.2" y1="811.52" x2="682.65" y2="811.52" stroke="#000" stroke-width="1.65" />
<line x1="662.2" y1="832.38" x2="677.03" y2="832.38" stroke="#000" stroke-width="1.65" />
<line x1="662.2" y1="853.23" x2="664.51" y2="853.23" stroke="#000" stroke-width="1.65" />
<line x1="662.2" y1="874.09" x2="661.79" y2="874.09" stroke="#000" stroke-width="1.65" />
<line x1="662.2" y1="894.94" x2="654.17" y2="894.94" stroke="#000" stroke-width="1.65" />
<line x1="662.2" y1="915.8" x2="650.73" y2="915.8" stroke="#000" stroke-width="1.65" />
<line x1="662.2" y1="936.65" x2="650.73" y2="936.65" stroke="#000" stroke-width="1.65" />
<line x1="662.2" y1="957.5" x2="646.19" y2="957.5" stroke="#000" stroke-width="1.65" />
<line x1="662.2" y1="978.36" x2="642.2" y2="978.36" stroke="#000" stroke-width="1.65" />
<line x1="662.2" y1="999.22" x2="639.12" y2="999.22" stroke="#000" stroke-width="1.65" />
<line x1="662.2" y1="1020.07" x2="638.57" y2="1020.07" stroke="#000" stroke-width="1.65" />
<line x1="662.2" y1="1040.92" x2="628.05" y2="1040.92" stroke="#000" stroke-width="1.65" />
<line x1="662.2" y1="1061.78" x2="624.42" y2="1061.78" stroke="#000" stroke-width="1.65" />
<line x1="662.2" y1="1082.63" x2="619.34" y2="1082.63" stroke="#000" stroke-width="1.65" />
<line x1="662.2" y1="1103.49" x2="611.72" y2="1103.49" stroke="#000" stroke-width="1.65" />
<line x1="662.2" y1="1124.35" x2="603.74" y2="1124.35" stroke="#000" stroke-width="1.65" />
<line x1="662.2" y1="1145.2" x2="600.11" y2="1145.2" stroke="#000" stroke-width="1.65" />
<line x1="662.2" y1="1166.06" x2="597.21" y2="1166.06" stroke="#000" stroke-width="1.65" />
<line x1="662.2" y1="1186.91" x2="592.31" y2="1186.91" stroke="#000" stroke-width="1.65" />
<line x1="662.2" y1="1207.77" x2="589.95" y2="1207.77" stroke="#000" stroke-width="1.65" />
<rect x="579.1" y="715.4" width="242.1" height="505" fill="none" stroke="#000" stroke-width="1.85" />
<clipPath id="clip-c"><rect x="578.9" y="715.4" width="242.5" height="505"/></clipPath>
<g clip-path="url(#clip-c)">
<circle cx="809.82" cy="728.1" r="10.8" fill="#e64b35"/>
<circle cx="722.2" cy="748.96" r="8.25" fill="#e64b35"/>
<circle cx="684.47" cy="769.81" r="6.5" fill="#da6752"/>
<circle cx="683.38" cy="790.66" r="6.43" fill="#d86a56"/>
<circle cx="682.65" cy="811.52" r="6.38" fill="#d76c58"/>
<circle cx="677.03" cy="832.38" r="5.99" fill="#c97e70"/>
<circle cx="664.51" cy="853.23" r="4.6" fill="#77b1c3"/>
<circle cx="661.79" cy="874.09" r="3.8" fill="#57b9d2"/>
<circle cx="654.17" cy="894.94" r="5.39" fill="#ab9999"/>
<circle cx="650.73" cy="915.8" r="5.72" fill="#bd8b83"/>
<circle cx="650.73" cy="936.65" r="5.72" fill="#bd8b83"/>
<circle cx="646.19" cy="957.5" r="6.08" fill="#cd7a6b"/>
<circle cx="642.2" cy="978.36" r="6.35" fill="#d66e5a"/>
<circle cx="639.12" cy="999.22" r="6.55" fill="#db6550"/>
<circle cx="638.57" cy="1020.07" r="6.58" fill="#dc644e"/>
<circle cx="628.05" cy="1040.92" r="7.15" fill="#e3523c"/>
<circle cx="624.42" cy="1061.78" r="7.33" fill="#e54f39"/>
<circle cx="619.34" cy="1082.63" r="7.56" fill="#e54d37"/>
<circle cx="611.72" cy="1103.49" r="7.88" fill="#e64b35"/>
<circle cx="603.74" cy="1124.35" r="8.2" fill="#e64b35"/>
<circle cx="600.11" cy="1145.2" r="8.33" fill="#e64b35"/>
<circle cx="597.21" cy="1166.06" r="8.44" fill="#e64b35"/>
<circle cx="592.31" cy="1186.91" r="8.61" fill="#e64b35"/>
<circle cx="589.95" cy="1207.77" r="8.69" fill="#e64b35"/>
</g>
<line x1="572.9" y1="728.1" x2="579.1" y2="728.1" stroke="#000" stroke-width="1.65" />
<text x="568.1" y="732.5" font-family='"Liberation Serif", serif' font-size="13.4" text-anchor="end" fill="#000" >Th2 cells</text>
<line x1="572.9" y1="748.96" x2="579.1" y2="748.96" stroke="#000" stroke-width="1.65" />
<text x="568.1" y="753.36" font-family='"Liberation Serif", serif' font-size="13.4" text-anchor="end" fill="#000" >aDC</text>
<line x1="572.9" y1="769.81" x2="579.1" y2="769.81" stroke="#000" stroke-width="1.65" />
<text x="568.1" y="774.21" font-family='"Liberation Serif", serif' font-size="13.4" text-anchor="end" fill="#000" >T helper cells</text>
<line x1="572.9" y1="790.66" x2="579.1" y2="790.66" stroke="#000" stroke-width="1.65" />
<text x="568.1" y="795.06" font-family='"Liberation Serif", serif' font-size="13.4" text-anchor="end" fill="#000" >Th1 cells</text>
<line x1="572.9" y1="811.52" x2="579.1" y2="811.52" stroke="#000" stroke-width="1.65" />
<text x="568.1" y="815.92" font-family='"Liberation Serif", serif' font-size="13.4" text-anchor="end" fill="#000" >TReg</text>
<line x1="572.9" y1="832.38" x2="579.1" y2="832.38" stroke="#000" stroke-width="1.65" />
<text x="568.1" y="836.77" font-family='"Liberation Serif", serif' font-size="13.4" text-anchor="end" fill="#000" >TFH</text>
<line x1="572.9" y1="853.23" x2="579.1" y2="853.23" stroke="#000" stroke-width="1.65" />
<text x="568.1" y="857.63" font-family='"Liberation Serif", serif' font-size="13.4" text-anchor="end" fill="#000" >NK CD56bright cells</text>
<line x1="572.9" y1="874.09" x2="579.1" y2="874.09" stroke="#000" stroke-width="1.65" />
<text x="568.1" y="878.49" font-family='"Liberation Serif", serif' font-size="13.4" text-anchor="end" fill="#000" >T cells</text>
<line x1="572.9" y1="894.94" x2="579.1" y2="894.94" stroke="#000" stroke-width="1.65" />
<text x="568.1" y="899.34" font-family='"Liberation Serif", serif' font-size="13.4" text-anchor="end" fill="#000" >pDC</text>
<line x1="572.9" y1="915.8" x2="579.1" y2="915.8" stroke="#000" stroke-width="1.65" />
<text x="568.1" y="920.2" font-family='"Liberation Serif", serif' font-size="13.4" text-anchor="end" fill="#000" >Macrophages</text>
<line x1="572.9" y1="936.65" x2="579.1" y2="936.65" stroke="#000" stroke-width="1.65" />
<text x="568.1" y="941.05" font-family='"Liberation Serif", serif' font-size="13.4" text-anchor="end" fill="#000" >Tcm</text>
<line x1="572.9" y1="957.5" x2="579.1" y2="957.5" stroke="#000" stroke-width="1.65" />
<text x="568.1" y="961.9" font-family='"Liberation Serif", serif' font-size="13.4" text-anchor="end" fill="#000" >NK CD56dim cells</text>
<line x1="572.9" y1="978.36" x2="579.1" y2="978.36" stroke="#000" stroke-width="1.65" />
<text x="568.1" y="982.76" font-family='"Liberation Serif", serif' font-size="13.4" text-anchor="end" fill="#000" >B cells</text>
<line x1="572.9" y1="999.22" x2="579.1" y2="999.22" stroke="#000" stroke-width="1.65" />
<text x="568.1" y="1003.62" font-family='"Liberation Serif", serif' font-size="13.4" text-anchor="end" fill="#000" >Tem</text>
<line x1="572.9" y1="1020.07" x2="579.1" y2="1020.07" stroke="#000" stroke-width="1.65" />
<text x="568.1" y="1024.47" font-family='"Liberation Serif", serif' font-size="13.4" text-anchor="end" fill="#000" >Cytotoxic cells</text>
<line x1="572.9" y1="1040.92" x2="579.1" y2="1040.92" stroke="#000" stroke-width="1.65" />
<text x="568.1" y="1045.33" font-family='"Liberation Serif", serif' font-size="13.4" text-anchor="end" fill="#000" >DC</text>
<line x1="572.9" y1="1061.78" x2="579.1" y2="1061.78" stroke="#000" stroke-width="1.65" />
<text x="568.1" y="1066.18" font-family='"Liberation Serif", serif' font-size="13.4" text-anchor="end" fill="#000" >iDC</text>
<line x1="572.9" y1="1082.63" x2="579.1" y2="1082.63" stroke="#000" stroke-width="1.65" />
<text x="568.1" y="1087.04" font-family='"Liberation Serif", serif' font-size="13.4" text-anchor="end" fill="#000" >Tgd</text>
<line x1="572.9" y1="1103.49" x2="579.1" y2="1103.49" stroke="#000" stroke-width="1.65" />
<text x="568.1" y="1107.89" font-family='"Liberation Serif", serif' font-size="13.4" text-anchor="end" fill="#000" >Neutrophils</text>
<line x1="572.9" y1="1124.35" x2="579.1" y2="1124.35" stroke="#000" stroke-width="1.65" />
<text x="568.1" y="1128.75" font-family='"Liberation Serif", serif' font-size="13.4" text-anchor="end" fill="#000" >Th17 cells</text>
<line x1="572.9" y1="1145.2" x2="579.1" y2="1145.2" stroke="#000" stroke-width="1.65" />
<text x="568.1" y="1149.6" font-family='"Liberation Serif", serif' font-size="13.4" text-anchor="end" fill="#000" >Mast cells</text>
<line x1="572.9" y1="1166.06" x2="579.1" y2="1166.06" stroke="#000" stroke-width="1.65" />
<text x="568.1" y="1170.46" font-family='"Liberation Serif", serif' font-size="13.4" text-anchor="end" fill="#000" >CD8 T cells</text>
<line x1="572.9" y1="1186.91" x2="579.1" y2="1186.91" stroke="#000" stroke-width="1.65" />
<text x="568.1" y="1191.31" font-family='"Liberation Serif", serif' font-size="13.4" text-anchor="end" fill="#000" >NK cells</text>
<line x1="572.9" y1="1207.77" x2="579.1" y2="1207.77" stroke="#000" stroke-width="1.65" />
<text x="568.1" y="1212.17" font-family='"Liberation Serif", serif' font-size="13.4" text-anchor="end" fill="#000" >Eosinophils</text>
<line x1="596.9" y1="1220.4" x2="596.9" y2="1226.6" stroke="#000" stroke-width="1.65" />
<text x="596.9" y="1240.7" font-family='"Liberation Serif", serif' font-size="13.4" text-anchor="middle" fill="#000" >-0.2</text>
<line x1="662.2" y1="1220.4" x2="662.2" y2="1226.6" stroke="#000" stroke-width="1.65" />
<text x="662.2" y="1240.7" font-family='"Liberation Serif", serif' font-size="13.4" text-anchor="middle" fill="#000" >0.0</text>
<line x1="727.5" y1="1220.4" x2="727.5" y2="1226.6" stroke="#000" stroke-width="1.65" />
<text x="727.5" y="1240.7" font-family='"Liberation Serif", serif' font-size="13.4" text-anchor="middle" fill="#000" >0.2</text>
<line x1="792.8" y1="1220.4" x2="792.8" y2="1226.6" stroke="#000" stroke-width="1.65" />
<text x="792.8" y="1240.7" font-family='"Liberation Serif", serif' font-size="13.4" text-anchor="middle" fill="#000" >0.4</text>
<text x="700.15" y="1260" font-family='"Liberation Serif", serif' font-size="15.5" text-anchor="middle" fill="#000" >Correlation</text>
<text x="833" y="846" font-family='"Liberation Serif", serif' font-size="11" text-anchor="start" fill="#000" >P value</text>
<linearGradient id="pg-c" x1="0" y1="0" x2="0" y2="1"><stop offset="0%" stop-color="#52bad3"/><stop offset="10%" stop-color="#77b1c3"/><stop offset="20%" stop-color="#8fa8b2"/><stop offset="30%" stop-color="#a29fa2"/><stop offset="40%" stop-color="#b19592"/><stop offset="50%" stop-color="#bd8b82"/><stop offset="60%" stop-color="#c88073"/><stop offset="70%" stop-color="#d17563"/><stop offset="80%" stop-color="#d96954"/><stop offset="90%" stop-color="#e05b44"/><stop offset="100%" stop-color="#e64b35"/></linearGradient>
<rect x="833" y="850.9" width="18.9" height="79" fill="url(#pg-c)" stroke="none" stroke-width="1" />
<line x1="833" y1="870" x2="836.8" y2="870" stroke="#fff" stroke-width="0.8" />
<line x1="848.1" y1="870" x2="851.9" y2="870" stroke="#fff" stroke-width="0.8" />
<text x="859.6" y="873.1" font-family='"Liberation Serif", serif' font-size="11" text-anchor="start" fill="#000" >0.75</text>
<line x1="833" y1="889.9" x2="836.8" y2="889.9" stroke="#fff" stroke-width="0.8" />
<line x1="848.1" y1="889.9" x2="851.9" y2="889.9" stroke="#fff" stroke-width="0.8" />
<text x="859.6" y="893" font-family='"Liberation Serif", serif' font-size="11" text-anchor="start" fill="#000" >0.50</text>
<line x1="833" y1="910" x2="836.8" y2="910" stroke="#fff" stroke-width="0.8" />
<line x1="848.1" y1="910" x2="851.9" y2="910" stroke="#fff" stroke-width="0.8" />
<text x="859.6" y="913.1" font-family='"Liberation Serif", serif' font-size="11" text-anchor="start" fill="#000" >0.25</text>
<text x="859.6" y="933.1" font-family='"Liberation Serif", serif' font-size="11" text-anchor="start" fill="#000" >0.00</text>
<text x="833" y="954.6" font-family='"Liberation Serif", serif' font-size="11" text-anchor="start" fill="#000" >Correlation</text>
<circle cx="845.2" cy="968.1" r="6.32" fill="none" stroke="#000" stroke-width="1.55"/>
<text x="864" y="971.5" font-family='"Liberation Serif", serif' font-size="11" text-anchor="start" fill="#000" >0.1</text>
<circle cx="845.2" cy="985.6" r="7.65" fill="none" stroke="#000" stroke-width="1.55"/>
<text x="864" y="989" font-family='"Liberation Serif", serif' font-size="11" text-anchor="start" fill="#000" >0.2</text>
<circle cx="845.2" cy="1005.7" r="8.95" fill="none" stroke="#000" stroke-width="1.55"/>
<text x="864" y="1009.1" font-family='"Liberation Serif", serif' font-size="11" text-anchor="start" fill="#000" >0.3</text>
<circle cx="845.2" cy="1029.3" r="9.85" fill="none" stroke="#000" stroke-width="1.55"/>
<text x="864" y="1032.7" font-family='"Liberation Serif", serif' font-size="11" text-anchor="start" fill="#000" >0.4</text>
</g>
<g id="panel-d">
<text x="934" y="691" font-family='"Liberation Serif", serif' font-size="73" text-anchor="start" fill="#000" font-weight="bold">d</text>
<text x="1138.8" y="710" font-family='"Liberation Serif", serif' font-size="15.2" text-anchor="middle" fill="#000" >LIPT1</text>
<line x1="1051.75" y1="716.3" x2="1051.75" y2="1221.2" stroke="#ececec" stroke-width="1.25" />
<line x1="1101.05" y1="716.3" x2="1101.05" y2="1221.2" stroke="#ececec" stroke-width="1.25" />
<line x1="1150.35" y1="716.3" x2="1150.35" y2="1221.2" stroke="#ececec" stroke-width="1.25" />
<line x1="1199.65" y1="716.3" x2="1199.65" y2="1221.2" stroke="#ececec" stroke-width="1.25" />
<line x1="1248.95" y1="716.3" x2="1248.95" y2="1221.2" stroke="#ececec" stroke-width="1.25" />
<line x1="1027.1" y1="716.3" x2="1027.1" y2="1221.2" stroke="#e8e8e8" stroke-width="1.8" />
<line x1="1076.4" y1="716.3" x2="1076.4" y2="1221.2" stroke="#e8e8e8" stroke-width="1.8" />
<line x1="1125.7" y1="716.3" x2="1125.7" y2="1221.2" stroke="#e8e8e8" stroke-width="1.8" />
<line x1="1175" y1="716.3" x2="1175" y2="1221.2" stroke="#e8e8e8" stroke-width="1.8" />
<line x1="1224.3" y1="716.3" x2="1224.3" y2="1221.2" stroke="#e8e8e8" stroke-width="1.8" />
<line x1="1019.3" y1="728.7" x2="1257.9" y2="728.7" stroke="#e8e8e8" stroke-width="1.8" />
<line x1="1019.3" y1="749.57" x2="1257.9" y2="749.57" stroke="#e8e8e8" stroke-width="1.8" />
<line x1="1019.3" y1="770.44" x2="1257.9" y2="770.44" stroke="#e8e8e8" stroke-width="1.8" />
<line x1="1019.3" y1="791.31" x2="1257.9" y2="791.31" stroke="#e8e8e8" stroke-width="1.8" />
<line x1="1019.3" y1="812.18" x2="1257.9" y2="812.18" stroke="#e8e8e8" stroke-width="1.8" />
<line x1="1019.3" y1="833.05" x2="1257.9" y2="833.05" stroke="#e8e8e8" stroke-width="1.8" />
<line x1="1019.3" y1="853.92" x2="1257.9" y2="853.92" stroke="#e8e8e8" stroke-width="1.8" />
<line x1="1019.3" y1="874.79" x2="1257.9" y2="874.79" stroke="#e8e8e8" stroke-width="1.8" />
<line x1="1019.3" y1="895.66" x2="1257.9" y2="895.66" stroke="#e8e8e8" stroke-width="1.8" />
<line x1="1019.3" y1="916.53" x2="1257.9" y2="916.53" stroke="#e8e8e8" stroke-width="1.8" />
<line x1="1019.3" y1="937.4" x2="1257.9" y2="937.4" stroke="#e8e8e8" stroke-width="1.8" />
<line x1="1019.3" y1="958.27" x2="1257.9" y2="958.27" stroke="#e8e8e8" stroke-width="1.8" />
<line x1="1019.3" y1="979.14" x2="1257.9" y2="979.14" stroke="#e8e8e8" stroke-width="1.8" />
<line x1="1019.3" y1="1000.01" x2="1257.9" y2="1000.01" stroke="#e8e8e8" stroke-width="1.8" />
<line x1="1019.3" y1="1020.88" x2="1257.9" y2="1020.88" stroke="#e8e8e8" stroke-width="1.8" />
<line x1="1019.3" y1="1041.75" x2="1257.9" y2="1041.75" stroke="#e8e8e8" stroke-width="1.8" />
<line x1="1019.3" y1="1062.62" x2="1257.9" y2="1062.62" stroke="#e8e8e8" stroke-width="1.8" />
<line x1="1019.3" y1="1083.49" x2="1257.9" y2="1083.49" stroke="#e8e8e8" stroke-width="1.8" />
<line x1="1019.3" y1="1104.36" x2="1257.9" y2="1104.36" stroke="#e8e8e8" stroke-width="1.8" />
<line x1="1019.3" y1="1125.23" x2="1257.9" y2="1125.23" stroke="#e8e8e8" stroke-width="1.8" />
<line x1="1019.3" y1="1146.1" x2="1257.9" y2="1146.1" stroke="#e8e8e8" stroke-width="1.8" />
<line x1="1019.3" y1="1166.97" x2="1257.9" y2="1166.97" stroke="#e8e8e8" stroke-width="1.8" />
<line x1="1019.3" y1="1187.84" x2="1257.9" y2="1187.84" stroke="#e8e8e8" stroke-width="1.8" />
<line x1="1019.3" y1="1208.71" x2="1257.9" y2="1208.71" stroke="#e8e8e8" stroke-width="1.8" />
<line x1="1125.7" y1="716.3" x2="1125.7" y2="1221.2" stroke="#4a4a4a" stroke-width="1.5" />
<line x1="1125.7" y1="728.7" x2="1248.19" y2="728.7" stroke="#000" stroke-width="1.65" />
<line x1="1125.7" y1="749.57" x2="1217.89" y2="749.57" stroke="#000" stroke-width="1.65" />
<line x1="1125.7" y1="770.44" x2="1206.83" y2="770.44" stroke="#000" stroke-width="1.65" />
<line x1="1125.7" y1="791.31" x2="1175.08" y2="791.31" stroke="#000" stroke-width="1.65" />
<line x1="1125.7" y1="812.18" x2="1173.08" y2="812.18" stroke="#000" stroke-width="1.65" />
<line x1="1125.7" y1="833.05" x2="1171.81" y2="833.05" stroke="#000" stroke-width="1.65" />
<line x1="1125.7" y1="853.92" x2="1167.28" y2="853.92" stroke="#000" stroke-width="1.65" />
<line x1="1125.7" y1="874.79" x2="1154.58" y2="874.79" stroke="#000" stroke-width="1.65" />
<line x1="1125.7" y1="895.66" x2="1146.6" y2="895.66" stroke="#000" stroke-width="1.65" />
<line x1="1125.7" y1="916.53" x2="1144.42" y2="916.53" stroke="#000" stroke-width="1.65" />
<line x1="1125.7" y1="937.4" x2="1142.61" y2="937.4" stroke="#000" stroke-width="1.65" />
<line x1="1125.7" y1="958.27" x2="1136.08" y2="958.27" stroke="#000" stroke-width="1.65" />
<line x1="1125.7" y1="979.14" x2="1125.74" y2="979.14" stroke="#000" stroke-width="1.65" />
<line x1="1125.7" y1="1000.01" x2="1124.1" y2="1000.01" stroke="#000" stroke-width="1.65" />
<line x1="1125.7" y1="1020.88" x2="1121.75" y2="1020.88" stroke="#000" stroke-width="1.65" />
<line x1="1125.7" y1="1041.75" x2="1113.22" y2="1041.75" stroke="#000" stroke-width="1.65" />
<line x1="1125.7" y1="1062.62" x2="1108.68" y2="1062.62" stroke="#000" stroke-width="1.65" />
<line x1="1125.7" y1="1083.49" x2="1090" y2="1083.49" stroke="#000" stroke-width="1.65" />
<line x1="1125.7" y1="1104.36" x2="1088.73" y2="1104.36" stroke="#000" stroke-width="1.65" />
<line x1="1125.7" y1="1125.23" x2="1069.32" y2="1125.23" stroke="#000" stroke-width="1.65" />
<line x1="1125.7" y1="1146.1" x2="1066.42" y2="1146.1" stroke="#000" stroke-width="1.65" />
<line x1="1125.7" y1="1166.97" x2="1054.44" y2="1166.97" stroke="#000" stroke-width="1.65" />
<line x1="1125.7" y1="1187.84" x2="1052.09" y2="1187.84" stroke="#000" stroke-width="1.65" />
<line x1="1125.7" y1="1208.71" x2="1028.14" y2="1208.71" stroke="#000" stroke-width="1.65" />
<rect x="1017.3" y="716.3" width="243" height="504.9" fill="none" stroke="#000" stroke-width="1.85" />
<clipPath id="clip-d"><rect x="1017.1" y="716.3" width="243.4" height="504.9"/></clipPath>
<g clip-path="url(#clip-d)">
<circle cx="1248.19" cy="728.7" r="10.8" fill="#e64b35"/>
<circle cx="1217.89" cy="749.57" r="9.87" fill="#e64b35"/>
<circle cx="1206.83" cy="770.44" r="9.5" fill="#e64b35"/>
<circle cx="1175.08" cy="791.31" r="8.24" fill="#e3543d"/>
<circle cx="1173.08" cy="812.18" r="8.15" fill="#e2553f"/>
<circle cx="1171.81" cy="833.05" r="8.09" fill="#e25740"/>
<circle cx="1167.28" cy="853.92" r="7.88" fill="#e05c45"/>
<circle cx="1154.58" cy="874.79" r="7.2" fill="#d4705d"/>
<circle cx="1146.6" cy="895.66" r="6.69" fill="#c68275"/>
<circle cx="1144.42" cy="916.53" r="6.53" fill="#c1877d"/>
<circle cx="1142.61" cy="937.4" r="6.4" fill="#bc8c84"/>
<circle cx="1136.08" cy="958.27" r="5.83" fill="#a39ea1"/>
<circle cx="1125.74" cy="979.14" r="3.8" fill="#4ebbd5"/>
<circle cx="1124.1" cy="1000.01" r="4.59" fill="#63b7cd"/>
<circle cx="1121.75" cy="1020.88" r="5.05" fill="#7bb0c0"/>
<circle cx="1113.22" cy="1041.75" r="6.03" fill="#ac9897"/>
<circle cx="1108.68" cy="1062.62" r="6.41" fill="#bc8c84"/>
<circle cx="1090" cy="1083.49" r="7.58" fill="#dc644e"/>
<circle cx="1088.73" cy="1104.36" r="7.64" fill="#dd624c"/>
<circle cx="1069.32" cy="1125.23" r="8.55" fill="#e45039"/>
<circle cx="1066.42" cy="1146.1" r="8.67" fill="#e54e38"/>
<circle cx="1054.44" cy="1166.97" r="9.14" fill="#e64c36"/>
<circle cx="1052.09" cy="1187.84" r="9.23" fill="#e64c36"/>
<circle cx="1028.14" cy="1208.71" r="10.05" fill="#e64b35"/>
</g>
<line x1="1011.1" y1="728.7" x2="1017.3" y2="728.7" stroke="#000" stroke-width="1.65" />
<text x="1006.3" y="733.1" font-family='"Liberation Serif", serif' font-size="13.4" text-anchor="end" fill="#000" >T helper cells</text>
<line x1="1011.1" y1="749.57" x2="1017.3" y2="749.57" stroke="#000" stroke-width="1.65" />
<text x="1006.3" y="753.97" font-family='"Liberation Serif", serif' font-size="13.4" text-anchor="end" fill="#000" >Eosinophils</text>
<line x1="1011.1" y1="770.44" x2="1017.3" y2="770.44" stroke="#000" stroke-width="1.65" />
<text x="1006.3" y="774.84" font-family='"Liberation Serif", serif' font-size="13.4" text-anchor="end" fill="#000" >NK CD56bright cells</text>
<line x1="1011.1" y1="791.31" x2="1017.3" y2="791.31" stroke="#000" stroke-width="1.65" />
<text x="1006.3" y="795.71" font-family='"Liberation Serif", serif' font-size="13.4" text-anchor="end" fill="#000" >aDC</text>
<line x1="1011.1" y1="812.18" x2="1017.3" y2="812.18" stroke="#000" stroke-width="1.65" />
<text x="1006.3" y="816.58" font-family='"Liberation Serif", serif' font-size="13.4" text-anchor="end" fill="#000" >TFH</text>
<line x1="1011.1" y1="833.05" x2="1017.3" y2="833.05" stroke="#000" stroke-width="1.65" />
<text x="1006.3" y="837.45" font-family='"Liberation Serif", serif' font-size="13.4" text-anchor="end" fill="#000" >Tcm</text>
<line x1="1011.1" y1="853.92" x2="1017.3" y2="853.92" stroke="#000" stroke-width="1.65" />
<text x="1006.3" y="858.32" font-family='"Liberation Serif", serif' font-size="13.4" text-anchor="end" fill="#000" >CD8 T cells</text>
<line x1="1011.1" y1="874.79" x2="1017.3" y2="874.79" stroke="#000" stroke-width="1.65" />
<text x="1006.3" y="879.19" font-family='"Liberation Serif", serif' font-size="13.4" text-anchor="end" fill="#000" >iDC</text>
<line x1="1011.1" y1="895.66" x2="1017.3" y2="895.66" stroke="#000" stroke-width="1.65" />
<text x="1006.3" y="900.06" font-family='"Liberation Serif", serif' font-size="13.4" text-anchor="end" fill="#000" >Th1 cells</text>
<line x1="1011.1" y1="916.53" x2="1017.3" y2="916.53" stroke="#000" stroke-width="1.65" />
<text x="1006.3" y="920.93" font-family='"Liberation Serif", serif' font-size="13.4" text-anchor="end" fill="#000" >NK CD56dim cells</text>
<line x1="1011.1" y1="937.4" x2="1017.3" y2="937.4" stroke="#000" stroke-width="1.65" />
<text x="1006.3" y="941.8" font-family='"Liberation Serif", serif' font-size="13.4" text-anchor="end" fill="#000" >Th2 cells</text>
<line x1="1011.1" y1="958.27" x2="1017.3" y2="958.27" stroke="#000" stroke-width="1.65" />
<text x="1006.3" y="962.67" font-family='"Liberation Serif", serif' font-size="13.4" text-anchor="end" fill="#000" >Th17 cells</text>
<line x1="1011.1" y1="979.14" x2="1017.3" y2="979.14" stroke="#000" stroke-width="1.65" />
<text x="1006.3" y="983.54" font-family='"Liberation Serif", serif' font-size="13.4" text-anchor="end" fill="#000" >Macrophages</text>
<line x1="1011.1" y1="1000.01" x2="1017.3" y2="1000.01" stroke="#000" stroke-width="1.65" />
<text x="1006.3" y="1004.41" font-family='"Liberation Serif", serif' font-size="13.4" text-anchor="end" fill="#000" >T cells</text>
<line x1="1011.1" y1="1020.88" x2="1017.3" y2="1020.88" stroke="#000" stroke-width="1.65" />
<text x="1006.3" y="1025.28" font-family='"Liberation Serif", serif' font-size="13.4" text-anchor="end" fill="#000" >Tem</text>
<line x1="1011.1" y1="1041.75" x2="1017.3" y2="1041.75" stroke="#000" stroke-width="1.65" />
<text x="1006.3" y="1046.15" font-family='"Liberation Serif", serif' font-size="13.4" text-anchor="end" fill="#000" >B cells</text>
<line x1="1011.1" y1="1062.62" x2="1017.3" y2="1062.62" stroke="#000" stroke-width="1.65" />
<text x="1006.3" y="1067.02" font-family='"Liberation Serif", serif' font-size="13.4" text-anchor="end" fill="#000" >Tgd</text>
<line x1="1011.1" y1="1083.49" x2="1017.3" y2="1083.49" stroke="#000" stroke-width="1.65" />
<text x="1006.3" y="1087.89" font-family='"Liberation Serif", serif' font-size="13.4" text-anchor="end" fill="#000" >NK cells</text>
<line x1="1011.1" y1="1104.36" x2="1017.3" y2="1104.36" stroke="#000" stroke-width="1.65" />
<text x="1006.3" y="1108.76" font-family='"Liberation Serif", serif' font-size="13.4" text-anchor="end" fill="#000" >Neutrophils</text>
<line x1="1011.1" y1="1125.23" x2="1017.3" y2="1125.23" stroke="#000" stroke-width="1.65" />
<text x="1006.3" y="1129.63" font-family='"Liberation Serif", serif' font-size="13.4" text-anchor="end" fill="#000" >Cytotoxic cells</text>
<line x1="1011.1" y1="1146.1" x2="1017.3" y2="1146.1" stroke="#000" stroke-width="1.65" />
<text x="1006.3" y="1150.5" font-family='"Liberation Serif", serif' font-size="13.4" text-anchor="end" fill="#000" >Mast cells</text>
<line x1="1011.1" y1="1166.97" x2="1017.3" y2="1166.97" stroke="#000" stroke-width="1.65" />
<text x="1006.3" y="1171.37" font-family='"Liberation Serif", serif' font-size="13.4" text-anchor="end" fill="#000" >TReg</text>
<line x1="1011.1" y1="1187.84" x2="1017.3" y2="1187.84" stroke="#000" stroke-width="1.65" />
<text x="1006.3" y="1192.24" font-family='"Liberation Serif", serif' font-size="13.4" text-anchor="end" fill="#000" >DC</text>
<line x1="1011.1" y1="1208.71" x2="1017.3" y2="1208.71" stroke="#000" stroke-width="1.65" />
<text x="1006.3" y="1213.11" font-family='"Liberation Serif", serif' font-size="13.4" text-anchor="end" fill="#000" >pDC</text>
<line x1="1027.1" y1="1221.2" x2="1027.1" y2="1227.4" stroke="#000" stroke-width="1.65" />
<text x="1027.1" y="1241.5" font-family='"Liberation Serif", serif' font-size="13.4" text-anchor="middle" fill="#000" >-0.2</text>
<line x1="1076.4" y1="1221.2" x2="1076.4" y2="1227.4" stroke="#000" stroke-width="1.65" />
<text x="1076.4" y="1241.5" font-family='"Liberation Serif", serif' font-size="13.4" text-anchor="middle" fill="#000" >-0.1</text>
<line x1="1125.7" y1="1221.2" x2="1125.7" y2="1227.4" stroke="#000" stroke-width="1.65" />
<text x="1125.7" y="1241.5" font-family='"Liberation Serif", serif' font-size="13.4" text-anchor="middle" fill="#000" >0.0</text>
<line x1="1175" y1="1221.2" x2="1175" y2="1227.4" stroke="#000" stroke-width="1.65" />
<text x="1175" y="1241.5" font-family='"Liberation Serif", serif' font-size="13.4" text-anchor="middle" fill="#000" >0.1</text>
<line x1="1224.3" y1="1221.2" x2="1224.3" y2="1227.4" stroke="#000" stroke-width="1.65" />
<text x="1224.3" y="1241.5" font-family='"Liberation Serif", serif' font-size="13.4" text-anchor="middle" fill="#000" >0.2</text>
<text x="1138.8" y="1260.8" font-family='"Liberation Serif", serif' font-size="15.5" text-anchor="middle" fill="#000" >Correlation</text>
<text x="1271.2" y="848.2" font-family='"Liberation Serif", serif' font-size="11" text-anchor="start" fill="#000" >P value</text>
<linearGradient id="pg-d" x1="0" y1="0" x2="0" y2="1"><stop offset="0%" stop-color="#4dbbd5"/><stop offset="10%" stop-color="#74b2c4"/><stop offset="20%" stop-color="#8ea9b4"/><stop offset="30%" stop-color="#a19fa3"/><stop offset="40%" stop-color="#b09593"/><stop offset="50%" stop-color="#bd8b83"/><stop offset="60%" stop-color="#c88173"/><stop offset="70%" stop-color="#d17564"/><stop offset="80%" stop-color="#d96954"/><stop offset="90%" stop-color="#e05b45"/><stop offset="100%" stop-color="#e64b35"/></linearGradient>
<rect x="1271.2" y="852.9" width="18.9" height="78.9" fill="url(#pg-d)" stroke="none" stroke-width="1" />
<line x1="1271.2" y1="872.9" x2="1275" y2="872.9" stroke="#fff" stroke-width="0.8" />
<line x1="1286.3" y1="872.9" x2="1290.1" y2="872.9" stroke="#fff" stroke-width="0.8" />
<text x="1297.8" y="876" font-family='"Liberation Serif", serif' font-size="11" text-anchor="start" fill="#000" >0.75</text>
<line x1="1271.2" y1="892.3" x2="1275" y2="892.3" stroke="#fff" stroke-width="0.8" />
<line x1="1286.3" y1="892.3" x2="1290.1" y2="892.3" stroke="#fff" stroke-width="0.8" />
<text x="1297.8" y="895.4" font-family='"Liberation Serif", serif' font-size="11" text-anchor="start" fill="#000" >0.50</text>
<line x1="1271.2" y1="912.2" x2="1275" y2="912.2" stroke="#fff" stroke-width="0.8" />
<line x1="1286.3" y1="912.2" x2="1290.1" y2="912.2" stroke="#fff" stroke-width="0.8" />
<text x="1297.8" y="915.3" font-family='"Liberation Serif", serif' font-size="11" text-anchor="start" fill="#000" >0.25</text>
<text x="1271.2" y="956.8" font-family='"Liberation Serif", serif' font-size="11" text-anchor="start" fill="#000" >Correlation</text>
<circle cx="1283" cy="969.6" r="6.15" fill="none" stroke="#000" stroke-width="1.55"/>
<text x="1301.2" y="973" font-family='"Liberation Serif", serif' font-size="11" text-anchor="start" fill="#000" >0.05</text>
<circle cx="1283" cy="987.2" r="7.6" fill="none" stroke="#000" stroke-width="1.55"/>
<text x="1301.2" y="990.6" font-family='"Liberation Serif", serif' font-size="11" text-anchor="start" fill="#000" >0.10</text>
<circle cx="1283" cy="1006.8" r="8.85" fill="none" stroke="#000" stroke-width="1.55"/>
<text x="1301.2" y="1010.2" font-family='"Liberation Serif", serif' font-size="11" text-anchor="start" fill="#000" >0.15</text>
<circle cx="1283" cy="1029.1" r="9.5" fill="none" stroke="#000" stroke-width="1.55"/>
<text x="1301.2" y="1032.5" font-family='"Liberation Serif", serif' font-size="11" text-anchor="start" fill="#000" >0.20</text>
</g>
<g id="panel-e">
<text x="1377.5" y="687.6" font-family='"Liberation Serif", serif' font-size="73.5" text-anchor="start" fill="#000" font-weight="bold">e</text>
<text x="1570.9" y="708.6" font-family='"Liberation Serif", serif' font-size="15.2" text-anchor="middle" fill="#000" >GLS</text>
<line x1="1481.05" y1="714.9" x2="1481.05" y2="1220.1" stroke="#ececec" stroke-width="1.25" />
<line x1="1519.35" y1="714.9" x2="1519.35" y2="1220.1" stroke="#ececec" stroke-width="1.25" />
<line x1="1557.65" y1="714.9" x2="1557.65" y2="1220.1" stroke="#ececec" stroke-width="1.25" />
<line x1="1595.95" y1="714.9" x2="1595.95" y2="1220.1" stroke="#ececec" stroke-width="1.25" />
<line x1="1634.25" y1="714.9" x2="1634.25" y2="1220.1" stroke="#ececec" stroke-width="1.25" />
<line x1="1672.55" y1="714.9" x2="1672.55" y2="1220.1" stroke="#ececec" stroke-width="1.25" />
<line x1="1461.9" y1="714.9" x2="1461.9" y2="1220.1" stroke="#e8e8e8" stroke-width="1.8" />
<line x1="1500.2" y1="714.9" x2="1500.2" y2="1220.1" stroke="#e8e8e8" stroke-width="1.8" />
<line x1="1538.5" y1="714.9" x2="1538.5" y2="1220.1" stroke="#e8e8e8" stroke-width="1.8" />
<line x1="1576.8" y1="714.9" x2="1576.8" y2="1220.1" stroke="#e8e8e8" stroke-width="1.8" />
<line x1="1615.1" y1="714.9" x2="1615.1" y2="1220.1" stroke="#e8e8e8" stroke-width="1.8" />
<line x1="1653.4" y1="714.9" x2="1653.4" y2="1220.1" stroke="#e8e8e8" stroke-width="1.8" />
<line x1="1691.7" y1="714.9" x2="1691.7" y2="1220.1" stroke="#e8e8e8" stroke-width="1.8" />
<line x1="1451.6" y1="727.6" x2="1689.8" y2="727.6" stroke="#e8e8e8" stroke-width="1.8" />
<line x1="1451.6" y1="748.46" x2="1689.8" y2="748.46" stroke="#e8e8e8" stroke-width="1.8" />
<line x1="1451.6" y1="769.32" x2="1689.8" y2="769.32" stroke="#e8e8e8" stroke-width="1.8" />
<line x1="1451.6" y1="790.18" x2="1689.8" y2="790.18" stroke="#e8e8e8" stroke-width="1.8" />
<line x1="1451.6" y1="811.04" x2="1689.8" y2="811.04" stroke="#e8e8e8" stroke-width="1.8" />
<line x1="1451.6" y1="831.9" x2="1689.8" y2="831.9" stroke="#e8e8e8" stroke-width="1.8" />
<line x1="1451.6" y1="852.76" x2="1689.8" y2="852.76" stroke="#e8e8e8" stroke-width="1.8" />
<line x1="1451.6" y1="873.62" x2="1689.8" y2="873.62" stroke="#e8e8e8" stroke-width="1.8" />
<line x1="1451.6" y1="894.48" x2="1689.8" y2="894.48" stroke="#e8e8e8" stroke-width="1.8" />
<line x1="1451.6" y1="915.34" x2="1689.8" y2="915.34" stroke="#e8e8e8" stroke-width="1.8" />
<line x1="1451.6" y1="936.2" x2="1689.8" y2="936.2" stroke="#e8e8e8" stroke-width="1.8" />
<line x1="1451.6" y1="957.06" x2="1689.8" y2="957.06" stroke="#e8e8e8" stroke-width="1.8" />
<line x1="1451.6" y1="977.92" x2="1689.8" y2="977.92" stroke="#e8e8e8" stroke-width="1.8" />
<line x1="1451.6" y1="998.78" x2="1689.8" y2="998.78" stroke="#e8e8e8" stroke-width="1.8" />
<line x1="1451.6" y1="1019.64" x2="1689.8" y2="1019.64" stroke="#e8e8e8" stroke-width="1.8" />
<line x1="1451.6" y1="1040.5" x2="1689.8" y2="1040.5" stroke="#e8e8e8" stroke-width="1.8" />
<line x1="1451.6" y1="1061.36" x2="1689.8" y2="1061.36" stroke="#e8e8e8" stroke-width="1.8" />
<line x1="1451.6" y1="1082.22" x2="1689.8" y2="1082.22" stroke="#e8e8e8" stroke-width="1.8" />
<line x1="1451.6" y1="1103.08" x2="1689.8" y2="1103.08" stroke="#e8e8e8" stroke-width="1.8" />
<line x1="1451.6" y1="1123.94" x2="1689.8" y2="1123.94" stroke="#e8e8e8" stroke-width="1.8" />
<line x1="1451.6" y1="1144.8" x2="1689.8" y2="1144.8" stroke="#e8e8e8" stroke-width="1.8" />
<line x1="1451.6" y1="1165.66" x2="1689.8" y2="1165.66" stroke="#e8e8e8" stroke-width="1.8" />
<line x1="1451.6" y1="1186.52" x2="1689.8" y2="1186.52" stroke="#e8e8e8" stroke-width="1.8" />
<line x1="1451.6" y1="1207.38" x2="1689.8" y2="1207.38" stroke="#e8e8e8" stroke-width="1.8" />
<line x1="1538.5" y1="714.9" x2="1538.5" y2="1220.1" stroke="#4a4a4a" stroke-width="1.5" />
<line x1="1538.5" y1="727.6" x2="1671.29" y2="727.6" stroke="#000" stroke-width="1.65" />
<line x1="1538.5" y1="748.46" x2="1657.14" y2="748.46" stroke="#000" stroke-width="1.65" />
<line x1="1538.5" y1="769.32" x2="1655.51" y2="769.32" stroke="#000" stroke-width="1.65" />
<line x1="1538.5" y1="790.18" x2="1642.63" y2="790.18" stroke="#000" stroke-width="1.65" />
<line x1="1538.5" y1="811.04" x2="1637.55" y2="811.04" stroke="#000" stroke-width="1.65" />
<line x1="1538.5" y1="831.9" x2="1622.31" y2="831.9" stroke="#000" stroke-width="1.65" />
<line x1="1538.5" y1="852.76" x2="1612.52" y2="852.76" stroke="#000" stroke-width="1.65" />
<line x1="1538.5" y1="873.62" x2="1592.38" y2="873.62" stroke="#000" stroke-width="1.65" />
<line x1="1538.5" y1="894.48" x2="1591.47" y2="894.48" stroke="#000" stroke-width="1.65" />
<line x1="1538.5" y1="915.34" x2="1582.95" y2="915.34" stroke="#000" stroke-width="1.65" />
<line x1="1538.5" y1="936.2" x2="1568.07" y2="936.2" stroke="#000" stroke-width="1.65" />
<line x1="1538.5" y1="957.06" x2="1561.9" y2="957.06" stroke="#000" stroke-width="1.65" />
<line x1="1538.5" y1="977.92" x2="1558.46" y2="977.92" stroke="#000" stroke-width="1.65" />
<line x1="1538.5" y1="998.78" x2="1555.92" y2="998.78" stroke="#000" stroke-width="1.65" />
<line x1="1538.5" y1="1019.64" x2="1538.32" y2="1019.64" stroke="#000" stroke-width="1.65" />
<line x1="1538.5" y1="1040.5" x2="1530.7" y2="1040.5" stroke="#000" stroke-width="1.65" />
<line x1="1538.5" y1="1061.36" x2="1523.63" y2="1061.36" stroke="#000" stroke-width="1.65" />
<line x1="1538.5" y1="1082.22" x2="1523.27" y2="1082.22" stroke="#000" stroke-width="1.65" />
<line x1="1538.5" y1="1103.08" x2="1507.48" y2="1103.08" stroke="#000" stroke-width="1.65" />
<line x1="1538.5" y1="1123.94" x2="1506.58" y2="1123.94" stroke="#000" stroke-width="1.65" />
<line x1="1538.5" y1="1144.8" x2="1486.44" y2="1144.8" stroke="#000" stroke-width="1.65" />
<line x1="1538.5" y1="1165.66" x2="1482.63" y2="1165.66" stroke="#000" stroke-width="1.65" />
<line x1="1538.5" y1="1186.52" x2="1479" y2="1186.52" stroke="#000" stroke-width="1.65" />
<line x1="1538.5" y1="1207.38" x2="1460.5" y2="1207.38" stroke="#000" stroke-width="1.65" />
<rect x="1449.6" y="714.9" width="242.6" height="505.2" fill="none" stroke="#000" stroke-width="1.85" />
<clipPath id="clip-e"><rect x="1449.4" y="714.9" width="243" height="505.2"/></clipPath>
<g clip-path="url(#clip-e)">
<circle cx="1671.29" cy="727.6" r="10.8" fill="#e64b35"/>
<circle cx="1657.14" cy="748.46" r="10.42" fill="#e64b35"/>
<circle cx="1655.51" cy="769.32" r="10.37" fill="#e64b35"/>
<circle cx="1642.63" cy="790.18" r="10" fill="#e64b35"/>
<circle cx="1637.55" cy="811.04" r="9.84" fill="#e64b35"/>
<circle cx="1622.31" cy="831.9" r="9.36" fill="#e64b35"/>
<circle cx="1612.52" cy="852.76" r="9.02" fill="#e64b35"/>
<circle cx="1592.38" cy="873.62" r="8.25" fill="#e64c36"/>
<circle cx="1591.47" cy="894.48" r="8.22" fill="#e64c36"/>
<circle cx="1582.95" cy="915.34" r="7.84" fill="#e54f39"/>
<circle cx="1568.07" cy="936.2" r="7.1" fill="#dd604a"/>
<circle cx="1561.9" cy="957.06" r="6.73" fill="#d66e5a"/>
<circle cx="1558.46" cy="977.92" r="6.5" fill="#cf7766"/>
<circle cx="1555.92" cy="998.78" r="6.32" fill="#c97e70"/>
<circle cx="1538.32" cy="1019.64" r="3.8" fill="#51bad4"/>
<circle cx="1530.7" cy="1040.5" r="5.48" fill="#a29fa2"/>
<circle cx="1523.63" cy="1061.36" r="6.13" fill="#c2867c"/>
<circle cx="1523.27" cy="1082.22" r="6.16" fill="#c3857a"/>
<circle cx="1507.48" cy="1103.08" r="7.18" fill="#df5e47"/>
<circle cx="1506.58" cy="1123.94" r="7.22" fill="#df5c46"/>
<circle cx="1486.44" cy="1144.8" r="8.18" fill="#e64c36"/>
<circle cx="1482.63" cy="1165.66" r="8.34" fill="#e64c36"/>
<circle cx="1479" cy="1186.52" r="8.48" fill="#e64b35"/>
<circle cx="1460.5" cy="1207.38" r="9.16" fill="#e64b35"/>
</g>
<line x1="1443.4" y1="727.6" x2="1449.6" y2="727.6" stroke="#000" stroke-width="1.65" />
<text x="1438.6" y="732" font-family='"Liberation Serif", serif' font-size="13.4" text-anchor="end" fill="#000" >TFH</text>
<line x1="1443.4" y1="748.46" x2="1449.6" y2="748.46" stroke="#000" stroke-width="1.65" />
<text x="1438.6" y="752.86" font-family='"Liberation Serif", serif' font-size="13.4" text-anchor="end" fill="#000" >Th2 cells</text>
<line x1="1443.4" y1="769.32" x2="1449.6" y2="769.32" stroke="#000" stroke-width="1.65" />
<text x="1438.6" y="773.72" font-family='"Liberation Serif", serif' font-size="13.4" text-anchor="end" fill="#000" >Macrophages</text>
<line x1="1443.4" y1="790.18" x2="1449.6" y2="790.18" stroke="#000" stroke-width="1.65" />
<text x="1438.6" y="794.58" font-family='"Liberation Serif", serif' font-size="13.4" text-anchor="end" fill="#000" >NK CD56bright cells</text>
<line x1="1443.4" y1="811.04" x2="1449.6" y2="811.04" stroke="#000" stroke-width="1.65" />
<text x="1438.6" y="815.44" font-family='"Liberation Serif", serif' font-size="13.4" text-anchor="end" fill="#000" >T helper cells</text>
<line x1="1443.4" y1="831.9" x2="1449.6" y2="831.9" stroke="#000" stroke-width="1.65" />
<text x="1438.6" y="836.3" font-family='"Liberation Serif", serif' font-size="13.4" text-anchor="end" fill="#000" >Tem</text>
<line x1="1443.4" y1="852.76" x2="1449.6" y2="852.76" stroke="#000" stroke-width="1.65" />
<text x="1438.6" y="857.16" font-family='"Liberation Serif", serif' font-size="13.4" text-anchor="end" fill="#000" >NK cells</text>
<line x1="1443.4" y1="873.62" x2="1449.6" y2="873.62" stroke="#000" stroke-width="1.65" />
<text x="1438.6" y="878.02" font-family='"Liberation Serif", serif' font-size="13.4" text-anchor="end" fill="#000" >iDC</text>
<line x1="1443.4" y1="894.48" x2="1449.6" y2="894.48" stroke="#000" stroke-width="1.65" />
<text x="1438.6" y="898.88" font-family='"Liberation Serif", serif' font-size="13.4" text-anchor="end" fill="#000" >Th1 cells</text>
<line x1="1443.4" y1="915.34" x2="1449.6" y2="915.34" stroke="#000" stroke-width="1.65" />
<text x="1438.6" y="919.74" font-family='"Liberation Serif", serif' font-size="13.4" text-anchor="end" fill="#000" >B cells</text>
<line x1="1443.4" y1="936.2" x2="1449.6" y2="936.2" stroke="#000" stroke-width="1.65" />
<text x="1438.6" y="940.6" font-family='"Liberation Serif", serif' font-size="13.4" text-anchor="end" fill="#000" >Mast cells</text>
<line x1="1443.4" y1="957.06" x2="1449.6" y2="957.06" stroke="#000" stroke-width="1.65" />
<text x="1438.6" y="961.46" font-family='"Liberation Serif", serif' font-size="13.4" text-anchor="end" fill="#000" >T cells</text>
<line x1="1443.4" y1="977.92" x2="1449.6" y2="977.92" stroke="#000" stroke-width="1.65" />
<text x="1438.6" y="982.32" font-family='"Liberation Serif", serif' font-size="13.4" text-anchor="end" fill="#000" >Eosinophils</text>
<line x1="1443.4" y1="998.78" x2="1449.6" y2="998.78" stroke="#000" stroke-width="1.65" />
<text x="1438.6" y="1003.18" font-family='"Liberation Serif", serif' font-size="13.4" text-anchor="end" fill="#000" >aDC</text>
<line x1="1443.4" y1="1019.64" x2="1449.6" y2="1019.64" stroke="#000" stroke-width="1.65" />
<text x="1438.6" y="1024.04" font-family='"Liberation Serif", serif' font-size="13.4" text-anchor="end" fill="#000" >NK CD56dim cells</text>
<line x1="1443.4" y1="1040.5" x2="1449.6" y2="1040.5" stroke="#000" stroke-width="1.65" />
<text x="1438.6" y="1044.9" font-family='"Liberation Serif", serif' font-size="13.4" text-anchor="end" fill="#000" >Tgd</text>
<line x1="1443.4" y1="1061.36" x2="1449.6" y2="1061.36" stroke="#000" stroke-width="1.65" />
<text x="1438.6" y="1065.76" font-family='"Liberation Serif", serif' font-size="13.4" text-anchor="end" fill="#000" >CD8 T cells</text>
<line x1="1443.4" y1="1082.22" x2="1449.6" y2="1082.22" stroke="#000" stroke-width="1.65" />
<text x="1438.6" y="1086.62" font-family='"Liberation Serif", serif' font-size="13.4" text-anchor="end" fill="#000" >Tcm</text>
<line x1="1443.4" y1="1103.08" x2="1449.6" y2="1103.08" stroke="#000" stroke-width="1.65" />
<text x="1438.6" y="1107.48" font-family='"Liberation Serif", serif' font-size="13.4" text-anchor="end" fill="#000" >pDC</text>
<line x1="1443.4" y1="1123.94" x2="1449.6" y2="1123.94" stroke="#000" stroke-width="1.65" />
<text x="1438.6" y="1128.34" font-family='"Liberation Serif", serif' font-size="13.4" text-anchor="end" fill="#000" >Neutrophils</text>
<line x1="1443.4" y1="1144.8" x2="1449.6" y2="1144.8" stroke="#000" stroke-width="1.65" />
<text x="1438.6" y="1149.2" font-family='"Liberation Serif", serif' font-size="13.4" text-anchor="end" fill="#000" >Th17 cells</text>
<line x1="1443.4" y1="1165.66" x2="1449.6" y2="1165.66" stroke="#000" stroke-width="1.65" />
<text x="1438.6" y="1170.06" font-family='"Liberation Serif", serif' font-size="13.4" text-anchor="end" fill="#000" >TReg</text>
<line x1="1443.4" y1="1186.52" x2="1449.6" y2="1186.52" stroke="#000" stroke-width="1.65" />
<text x="1438.6" y="1190.92" font-family='"Liberation Serif", serif' font-size="13.4" text-anchor="end" fill="#000" >DC</text>
<line x1="1443.4" y1="1207.38" x2="1449.6" y2="1207.38" stroke="#000" stroke-width="1.65" />
<text x="1438.6" y="1211.78" font-family='"Liberation Serif", serif' font-size="13.4" text-anchor="end" fill="#000" >Cytotoxic cells</text>
<line x1="1461.9" y1="1220.1" x2="1461.9" y2="1226.3" stroke="#000" stroke-width="1.65" />
<text x="1461.9" y="1240.4" font-family='"Liberation Serif", serif' font-size="13.4" text-anchor="middle" fill="#000" >-0.2</text>
<line x1="1500.2" y1="1220.1" x2="1500.2" y2="1226.3" stroke="#000" stroke-width="1.65" />
<text x="1500.2" y="1240.4" font-family='"Liberation Serif", serif' font-size="13.4" text-anchor="middle" fill="#000" >-0.1</text>
<line x1="1538.5" y1="1220.1" x2="1538.5" y2="1226.3" stroke="#000" stroke-width="1.65" />
<text x="1538.5" y="1240.4" font-family='"Liberation Serif", serif' font-size="13.4" text-anchor="middle" fill="#000" >0.0</text>
<line x1="1576.8" y1="1220.1" x2="1576.8" y2="1226.3" stroke="#000" stroke-width="1.65" />
<text x="1576.8" y="1240.4" font-family='"Liberation Serif", serif' font-size="13.4" text-anchor="middle" fill="#000" >0.1</text>
<line x1="1615.1" y1="1220.1" x2="1615.1" y2="1226.3" stroke="#000" stroke-width="1.65" />
<text x="1615.1" y="1240.4" font-family='"Liberation Serif", serif' font-size="13.4" text-anchor="middle" fill="#000" >0.2</text>
<line x1="1653.4" y1="1220.1" x2="1653.4" y2="1226.3" stroke="#000" stroke-width="1.65" />
<text x="1653.4" y="1240.4" font-family='"Liberation Serif", serif' font-size="13.4" text-anchor="middle" fill="#000" >0.3</text>
<line x1="1691.7" y1="1220.1" x2="1691.7" y2="1226.3" stroke="#000" stroke-width="1.65" />
<text x="1691.7" y="1240.4" font-family='"Liberation Serif", serif' font-size="13.4" text-anchor="middle" fill="#000" >0.4</text>
<text x="1570.9" y="1259.7" font-family='"Liberation Serif", serif' font-size="15.5" text-anchor="middle" fill="#000" >Correlation</text>
<text x="1703.7" y="854.2" font-family='"Liberation Serif", serif' font-size="11" text-anchor="start" fill="#000" >P value</text>
<linearGradient id="pg-e" x1="0" y1="0" x2="0" y2="1"><stop offset="0%" stop-color="#4dbbd5"/><stop offset="10%" stop-color="#74b2c4"/><stop offset="20%" stop-color="#8ea9b4"/><stop offset="30%" stop-color="#a19fa3"/><stop offset="40%" stop-color="#b09593"/><stop offset="50%" stop-color="#bd8b83"/><stop offset="60%" stop-color="#c88173"/><stop offset="70%" stop-color="#d17564"/><stop offset="80%" stop-color="#d96954"/><stop offset="90%" stop-color="#e05b45"/><stop offset="100%" stop-color="#e64b35"/></linearGradient>
<rect x="1703.7" y="858.7" width="18.9" height="78.7" fill="url(#pg-e)" stroke="none" stroke-width="1" />
<line x1="1703.7" y1="878.3" x2="1707.5" y2="878.3" stroke="#fff" stroke-width="0.8" />
<line x1="1718.8" y1="878.3" x2="1722.6" y2="878.3" stroke="#fff" stroke-width="0.8" />
<text x="1730.3" y="881.4" font-family='"Liberation Serif", serif' font-size="11" text-anchor="start" fill="#000" >0.75</text>
<line x1="1703.7" y1="898.1" x2="1707.5" y2="898.1" stroke="#fff" stroke-width="0.8" />
<line x1="1718.8" y1="898.1" x2="1722.6" y2="898.1" stroke="#fff" stroke-width="0.8" />
<text x="1730.3" y="901.2" font-family='"Liberation Serif", serif' font-size="11" text-anchor="start" fill="#000" >0.50</text>
<line x1="1703.7" y1="917.7" x2="1707.5" y2="917.7" stroke="#fff" stroke-width="0.8" />
<line x1="1718.8" y1="917.7" x2="1722.6" y2="917.7" stroke="#fff" stroke-width="0.8" />
<text x="1730.3" y="920.8" font-family='"Liberation Serif", serif' font-size="11" text-anchor="start" fill="#000" >0.25</text>
<text x="1703.7" y="963.1" font-family='"Liberation Serif", serif' font-size="11" text-anchor="start" fill="#000" >Correlation</text>
<circle cx="1715.4" cy="975.9" r="6.51" fill="none" stroke="#000" stroke-width="1.55"/>
<text x="1734" y="979.3" font-family='"Liberation Serif", serif' font-size="11" text-anchor="start" fill="#000" >0.1</text>
<circle cx="1715.4" cy="994.4" r="8.25" fill="none" stroke="#000" stroke-width="1.55"/>
<text x="1734" y="997.8" font-family='"Liberation Serif", serif' font-size="11" text-anchor="start" fill="#000" >0.2</text>
<circle cx="1715.4" cy="1016.6" r="9.5" fill="none" stroke="#000" stroke-width="1.55"/>
<text x="1734" y="1020" font-family='"Liberation Serif", serif' font-size="11" text-anchor="start" fill="#000" >0.3</text>
</g>
<g id="panel-f">
<text x="71" y="1357.8" font-family='"Liberation Serif", serif' font-size="73.5" text-anchor="start" fill="#000" font-weight="bold">f</text>
<rect x="138" y="1359.2" width="72.5" height="74.48" fill="#ffcfbf" stroke="none" stroke-width="1" />
<rect x="210.2" y="1359.2" width="72.5" height="74.48" fill="#ffd9cb" stroke="none" stroke-width="1" />
<rect x="282.4" y="1359.2" width="72.5" height="74.48" fill="#ffd9cb" stroke="none" stroke-width="1" />
<rect x="354.6" y="1359.2" width="72.5" height="74.48" fill="#ffe4db" stroke="none" stroke-width="1" />
<rect x="426.8" y="1359.2" width="72.5" height="74.48" fill="#ffd9cb" stroke="none" stroke-width="1" />
<rect x="499" y="1359.2" width="72.5" height="74.48" fill="#ffe0d6" stroke="none" stroke-width="1" />
<rect x="571.2" y="1359.2" width="72.5" height="74.48" fill="#ffd9cb" stroke="none" stroke-width="1" />
<rect x="643.4" y="1359.2" width="72.5" height="74.48" fill="#ffd1c1" stroke="none" stroke-width="1" />
<rect x="715.6" y="1359.2" width="72.5" height="74.48" fill="#ffcdbc" stroke="none" stroke-width="1" />
<rect x="138" y="1433.38" width="72.5" height="74.48" fill="#ffc6b2" stroke="none" stroke-width="1" />
<rect x="210.2" y="1433.38" width="72.5" height="74.48" fill="#ffd6c8" stroke="none" stroke-width="1" />
<rect x="282.4" y="1433.38" width="72.5" height="74.48" fill="#fff1eb" stroke="none" stroke-width="1" />
<rect x="354.6" y="1433.38" width="72.5" height="74.48" fill="#fff1eb" stroke="none" stroke-width="1" />
<rect x="426.8" y="1433.38" width="72.5" height="74.48" fill="#ffcab8" stroke="none" stroke-width="1" />
<rect x="499" y="1433.38" width="72.5" height="74.48" fill="#ffe2d8" stroke="none" stroke-width="1" />
<rect x="571.2" y="1433.38" width="72.5" height="74.48" fill="#ffcfbf" stroke="none" stroke-width="1" />
<rect x="643.4" y="1433.38" width="72.5" height="74.48" fill="#ffb59d" stroke="none" stroke-width="1" />
<rect x="715.6" y="1433.38" width="72.5" height="74.48" fill="#ffb9a2" stroke="none" stroke-width="1" />
<rect x="138" y="1507.56" width="72.5" height="74.48" fill="#ffb8a1" stroke="none" stroke-width="1" />
<rect x="210.2" y="1507.56" width="72.5" height="74.48" fill="#ffefe9" stroke="none" stroke-width="1" />
<rect x="282.4" y="1507.56" width="72.5" height="74.48" fill="#ffeae2" stroke="none" stroke-width="1" />
<rect x="354.6" y="1507.56" width="72.5" height="74.48" fill="#f2e7ff" stroke="none" stroke-width="1" />
<rect x="426.8" y="1507.56" width="72.5" height="74.48" fill="#fff4ef" stroke="none" stroke-width="1" />
<rect x="499" y="1507.56" width="72.5" height="74.48" fill="#ffdbce" stroke="none" stroke-width="1" />
<rect x="571.2" y="1507.56" width="72.5" height="74.48" fill="#ffded2" stroke="none" stroke-width="1" />
<rect x="643.4" y="1507.56" width="72.5" height="74.48" fill="#ffc3ae" stroke="none" stroke-width="1" />
<rect x="715.6" y="1507.56" width="72.5" height="74.48" fill="#ffd2c2" stroke="none" stroke-width="1" />
<rect x="138" y="1581.74" width="72.5" height="74.48" fill="#ffd6c8" stroke="none" stroke-width="1" />
<rect x="210.2" y="1581.74" width="72.5" height="74.48" fill="#ffd3c4" stroke="none" stroke-width="1" />
<rect x="282.4" y="1581.74" width="72.5" height="74.48" fill="#ffe5dc" stroke="none" stroke-width="1" />
<rect x="354.6" y="1581.74" width="72.5" height="74.48" fill="#ffcfbf" stroke="none" stroke-width="1" />
<rect x="426.8" y="1581.74" width="72.5" height="74.48" fill="#ffdccf" stroke="none" stroke-width="1" />
<rect x="499" y="1581.74" width="72.5" height="74.48" fill="#ffede6" stroke="none" stroke-width="1" />
<rect x="571.2" y="1581.74" width="72.5" height="74.48" fill="#ffe1d7" stroke="none" stroke-width="1" />
<rect x="643.4" y="1581.74" width="72.5" height="74.48" fill="#ffdbce" stroke="none" stroke-width="1" />
<rect x="715.6" y="1581.74" width="72.5" height="74.48" fill="#ffe8e0" stroke="none" stroke-width="1" />
<text x="122.9" y="1400.69" font-family='"Liberation Sans", sans-serif' font-size="12" text-anchor="end" fill="#1a1a1a" >LIPT1</text>
<text x="174.1" y="1399.89" font-family='"Liberation Sans", sans-serif' font-size="15.5" text-anchor="middle" fill="#111" >***</text>
<text x="246.3" y="1399.89" font-family='"Liberation Sans", sans-serif' font-size="15.5" text-anchor="middle" fill="#111" >***</text>
<text x="318.5" y="1399.89" font-family='"Liberation Sans", sans-serif' font-size="15.5" text-anchor="middle" fill="#111" >***</text>
<text x="390.7" y="1399.89" font-family='"Liberation Sans", sans-serif' font-size="15.5" text-anchor="middle" fill="#111" >*</text>
<text x="462.9" y="1399.89" font-family='"Liberation Sans", sans-serif' font-size="15.5" text-anchor="middle" fill="#111" >**</text>
<text x="535.1" y="1399.89" font-family='"Liberation Sans", sans-serif' font-size="15.5" text-anchor="middle" fill="#111" >**</text>
<text x="607.3" y="1399.89" font-family='"Liberation Sans", sans-serif' font-size="15.5" text-anchor="middle" fill="#111" >***</text>
<text x="679.5" y="1399.89" font-family='"Liberation Sans", sans-serif' font-size="15.5" text-anchor="middle" fill="#111" >***</text>
<text x="751.7" y="1399.89" font-family='"Liberation Sans", sans-serif' font-size="15.5" text-anchor="middle" fill="#111" >***</text>
<text x="122.9" y="1474.87" font-family='"Liberation Sans", sans-serif' font-size="12" text-anchor="end" fill="#1a1a1a" >GLS</text>
<text x="174.1" y="1474.07" font-family='"Liberation Sans", sans-serif' font-size="15.5" text-anchor="middle" fill="#111" >***</text>
<text x="246.3" y="1474.07" font-family='"Liberation Sans", sans-serif' font-size="15.5" text-anchor="middle" fill="#111" >***</text>
<text x="318.5" y="1476.27" font-family='"Liberation Sans", sans-serif' font-size="15.5" text-anchor="middle" fill="#000" >ns</text>
<text x="390.7" y="1476.27" font-family='"Liberation Sans", sans-serif' font-size="15.5" text-anchor="middle" fill="#000" >ns</text>
<text x="462.9" y="1474.07" font-family='"Liberation Sans", sans-serif' font-size="15.5" text-anchor="middle" fill="#111" >***</text>
<text x="535.1" y="1474.07" font-family='"Liberation Sans", sans-serif' font-size="15.5" text-anchor="middle" fill="#111" >**</text>
<text x="607.3" y="1474.07" font-family='"Liberation Sans", sans-serif' font-size="15.5" text-anchor="middle" fill="#111" >***</text>
<text x="679.5" y="1474.07" font-family='"Liberation Sans", sans-serif' font-size="15.5" text-anchor="middle" fill="#111" >***</text>
<text x="751.7" y="1474.07" font-family='"Liberation Sans", sans-serif' font-size="15.5" text-anchor="middle" fill="#111" >***</text>
<text x="122.9" y="1549.05" font-family='"Liberation Sans", sans-serif' font-size="12" text-anchor="end" fill="#1a1a1a" >DLAT</text>
<text x="174.1" y="1548.25" font-family='"Liberation Sans", sans-serif' font-size="15.5" text-anchor="middle" fill="#111" >***</text>
<text x="246.3" y="1550.45" font-family='"Liberation Sans", sans-serif' font-size="15.5" text-anchor="middle" fill="#000" >ns</text>
<text x="318.5" y="1550.45" font-family='"Liberation Sans", sans-serif' font-size="15.5" text-anchor="middle" fill="#000" >ns</text>
<text x="390.7" y="1550.45" font-family='"Liberation Sans", sans-serif' font-size="15.5" text-anchor="middle" fill="#000" >ns</text>
<text x="462.9" y="1550.45" font-family='"Liberation Sans", sans-serif' font-size="15.5" text-anchor="middle" fill="#000" >ns</text>
<text x="535.1" y="1548.25" font-family='"Liberation Sans", sans-serif' font-size="15.5" text-anchor="middle" fill="#111" >**</text>
<text x="607.3" y="1548.25" font-family='"Liberation Sans", sans-serif' font-size="15.5" text-anchor="middle" fill="#111" >**</text>
<text x="679.5" y="1548.25" font-family='"Liberation Sans", sans-serif' font-size="15.5" text-anchor="middle" fill="#111" >***</text>
<text x="751.7" y="1548.25" font-family='"Liberation Sans", sans-serif' font-size="15.5" text-anchor="middle" fill="#111" >***</text>
<text x="122.9" y="1623.23" font-family='"Liberation Sans", sans-serif' font-size="12" text-anchor="end" fill="#1a1a1a" >CDKN2A</text>
<text x="174.1" y="1622.43" font-family='"Liberation Sans", sans-serif' font-size="15.5" text-anchor="middle" fill="#111" >***</text>
<text x="246.3" y="1622.43" font-family='"Liberation Sans", sans-serif' font-size="15.5" text-anchor="middle" fill="#111" >***</text>
<text x="318.5" y="1622.43" font-family='"Liberation Sans", sans-serif' font-size="15.5" text-anchor="middle" fill="#111" >*</text>
<text x="390.7" y="1622.43" font-family='"Liberation Sans", sans-serif' font-size="15.5" text-anchor="middle" fill="#111" >***</text>
<text x="462.9" y="1622.43" font-family='"Liberation Sans", sans-serif' font-size="15.5" text-anchor="middle" fill="#111" >**</text>
<text x="535.1" y="1624.63" font-family='"Liberation Sans", sans-serif' font-size="15.5" text-anchor="middle" fill="#000" >ns</text>
<text x="607.3" y="1622.43" font-family='"Liberation Sans", sans-serif' font-size="15.5" text-anchor="middle" fill="#111" >**</text>
<text x="679.5" y="1622.43" font-family='"Liberation Sans", sans-serif' font-size="15.5" text-anchor="middle" fill="#111" >**</text>
<text x="751.7" y="1622.43" font-family='"Liberation Sans", sans-serif' font-size="15.5" text-anchor="middle" fill="#111" >*</text>
<line x1="174.1" y1="1663" x2="174.1" y2="1667.8" stroke="#111" stroke-width="1.3" />
<text transform="translate(178.9,1678.4) rotate(-30)" font-family='"Liberation Sans", sans-serif' font-size="12" text-anchor="end" fill="#000">CD274</text>
<line x1="246.3" y1="1663" x2="246.3" y2="1667.8" stroke="#111" stroke-width="1.3" />
<text transform="translate(251.1,1678.4) rotate(-30)" font-family='"Liberation Sans", sans-serif' font-size="12" text-anchor="end" fill="#000">CTLA4</text>
<line x1="318.5" y1="1663" x2="318.5" y2="1667.8" stroke="#111" stroke-width="1.3" />
<text transform="translate(323.3,1678.4) rotate(-30)" font-family='"Liberation Sans", sans-serif' font-size="12" text-anchor="end" fill="#000">IDO1</text>
<line x1="390.7" y1="1663" x2="390.7" y2="1667.8" stroke="#111" stroke-width="1.3" />
<text transform="translate(395.5,1678.4) rotate(-30)" font-family='"Liberation Sans", sans-serif' font-size="12" text-anchor="end" fill="#000">LAG3</text>
<line x1="462.9" y1="1663" x2="462.9" y2="1667.8" stroke="#111" stroke-width="1.3" />
<text transform="translate(467.7,1678.4) rotate(-30)" font-family='"Liberation Sans", sans-serif' font-size="12" text-anchor="end" fill="#000">PDCD1</text>
<line x1="535.1" y1="1663" x2="535.1" y2="1667.8" stroke="#111" stroke-width="1.3" />
<text transform="translate(539.9,1678.4) rotate(-30)" font-family='"Liberation Sans", sans-serif' font-size="12" text-anchor="end" fill="#000">PDCD1LG2</text>
<line x1="607.3" y1="1663" x2="607.3" y2="1667.8" stroke="#111" stroke-width="1.3" />
<text transform="translate(612.1,1678.4) rotate(-30)" font-family='"Liberation Sans", sans-serif' font-size="12" text-anchor="end" fill="#000">TIGIT</text>
<line x1="679.5" y1="1663" x2="679.5" y2="1667.8" stroke="#111" stroke-width="1.3" />
<text transform="translate(684.3,1678.4) rotate(-30)" font-family='"Liberation Sans", sans-serif' font-size="12" text-anchor="end" fill="#000">TIM3</text>
<line x1="751.7" y1="1663" x2="751.7" y2="1667.8" stroke="#111" stroke-width="1.3" />
<text transform="translate(756.5,1678.4) rotate(-30)" font-family='"Liberation Sans", sans-serif' font-size="12" text-anchor="end" fill="#000">VISTA</text>
<text x="819.8" y="1373.5" font-family='"Liberation Sans", sans-serif' font-size="16.3" text-anchor="start" fill="#000" >ns  p &gt; 0.05</text>
<text x="819.8" y="1406.5" font-family='"Liberation Sans", sans-serif' font-size="15.2" text-anchor="start" fill="#000" >*</text>
<text x="844.3" y="1408.8" font-family='"Liberation Sans", sans-serif' font-size="16.3" text-anchor="start" fill="#000" >p &lt; 0.05</text>
<text x="819.8" y="1441.7" font-family='"Liberation Sans", sans-serif' font-size="15.2" text-anchor="start" fill="#000" >**</text>
<text x="841.9" y="1444" font-family='"Liberation Sans", sans-serif' font-size="16.3" text-anchor="start" fill="#000" >p &lt; 0.01</text>
<text x="819.8" y="1477.4" font-family='"Liberation Sans", sans-serif' font-size="15.2" text-anchor="start" fill="#000" >***</text>
<text x="843.7" y="1479.7" font-family='"Liberation Sans", sans-serif' font-size="16.3" text-anchor="start" fill="#000" >p &lt; 0.001</text>
<text x="819.8" y="1515.9" font-family='"Liberation Sans", sans-serif' font-size="16.3" text-anchor="start" fill="#000" >Correlation</text>
<linearGradient id="fgrad" x1="0" y1="0" x2="0" y2="1"><stop offset="0%" stop-color="#ff0000"/><stop offset="5%" stop-color="#ff3e22"/><stop offset="10%" stop-color="#ff5b3a"/><stop offset="15%" stop-color="#ff7352"/><stop offset="20%" stop-color="#ff8969"/><stop offset="25%" stop-color="#ff9e81"/><stop offset="30%" stop-color="#ffb299"/><stop offset="35%" stop-color="#ffc6b2"/><stop offset="40%" stop-color="#ffd9cb"/><stop offset="45%" stop-color="#ffece5"/><stop offset="50%" stop-color="#ffffff"/><stop offset="55%" stop-color="#f2e7ff"/><stop offset="60%" stop-color="#e3d0ff"/><stop offset="65%" stop-color="#d4b9ff"/><stop offset="70%" stop-color="#c4a2ff"/><stop offset="75%" stop-color="#b38bff"/><stop offset="80%" stop-color="#a074ff"/><stop offset="85%" stop-color="#8a5dff"/><stop offset="90%" stop-color="#7145ff"/><stop offset="95%" stop-color="#502bff"/><stop offset="100%" stop-color="#0000ff"/></linearGradient>
<rect x="819.5" y="1526.1" width="26.1" height="128.8" fill="url(#fgrad)" stroke="none" stroke-width="1" />
<text x="853.7" y="1530.3" font-family='"Liberation Sans", sans-serif' font-size="13.2" text-anchor="start" fill="#000" >1.0</text>
<text x="853.7" y="1562.3" font-family='"Liberation Sans", sans-serif' font-size="13.2" text-anchor="start" fill="#000" >0.5</text>
<text x="853.7" y="1594.1" font-family='"Liberation Sans", sans-serif' font-size="13.2" text-anchor="start" fill="#000" >0.0</text>
<text x="853.7" y="1626.7" font-family='"Liberation Sans", sans-serif' font-size="13.2" text-anchor="start" fill="#000" >−0.5</text>
<text x="853.7" y="1658.5" font-family='"Liberation Sans", sans-serif' font-size="13.2" text-anchor="start" fill="#000" >−1.0</text>
<line x1="819.5" y1="1558.4" x2="824.7" y2="1558.4" stroke="#fff" stroke-width="0.8" />
<line x1="840.4" y1="1558.4" x2="845.6" y2="1558.4" stroke="#fff" stroke-width="0.8" />
<line x1="819.5" y1="1622.7" x2="824.7" y2="1622.7" stroke="#fff" stroke-width="0.8" />
<line x1="840.4" y1="1622.7" x2="845.6" y2="1622.7" stroke="#fff" stroke-width="0.8" />
</g>
<g id="panel-g">
<text x="946.3" y="1339.5" font-family='"Liberation Serif", serif' font-size="71" text-anchor="start" fill="#000" font-weight="bold">g</text>
<text x="1246.2" y="1328.2" font-family='"Liberation Serif", serif' font-size="28.2" text-anchor="middle" fill="#000" >DLAT</text>
<text x="1520.2" y="1328.5" font-family='"Liberation Serif", serif' font-size="28.2" text-anchor="middle" fill="#000" >PD-L1</text>
<line x1="1061" y1="1344.8" x2="1432.9" y2="1344.8" stroke="#111" stroke-width="2.2" />
<line x1="1444.8" y1="1344.8" x2="1591.6" y2="1344.8" stroke="#111" stroke-width="2.2" />
<line x1="1069.9" y1="1744.6" x2="1225.5" y2="1744.6" stroke="#111" stroke-width="2.2" />
<line x1="1245.9" y1="1744.6" x2="1600.8" y2="1744.6" stroke="#111" stroke-width="2.2" />
<text x="1142.4" y="1778.4" font-family='"Liberation Serif", serif' font-size="28.2" text-anchor="middle" fill="#000" >Normal</text>
<text x="1420.2" y="1778.4" font-family='"Liberation Serif", serif' font-size="28.2" text-anchor="middle" fill="#000" >HCC</text>
<filter id="blur2" x="-20%" y="-20%" width="140%" height="140%"><feGaussianBlur stdDeviation="2"/></filter>
<filter id="blur5" x="-30%" y="-30%" width="160%" height="160%"><feGaussianBlur stdDeviation="5"/></filter>
<filter id="blur9" x="-40%" y="-40%" width="180%" height="180%"><feGaussianBlur stdDeviation="9"/></filter>
<filter id="tex1" x="-5%" y="-5%" width="110%" height="110%" color-interpolation-filters="sRGB"><feTurbulence type="fractalNoise" baseFrequency="0.12" numOctaves="2" seed="10" result="e"/><feDisplacementMap in="SourceGraphic" in2="e" scale="3" xChannelSelector="R" yChannelSelector="G" result="shape"/><feTurbulence type="fractalNoise" baseFrequency="0.55" numOctaves="3" seed="3" result="n"/><feColorMatrix in="n" type="matrix" values="0 0 0 0 0.957  0 0 0 0 0.922  0 0 0 0 0.898  2.200 0 0 0 -0.950" result="sp"/><feComposite in="sp" in2="shape" operator="in" result="spin"/><feColorMatrix in="n" type="matrix" values="0 0 0 0 0.624  0 0 0 0 0.384  0 0 0 0 0.282  0 2.000 0 0 -0.850" result="dk"/><feComposite in="dk" in2="shape" operator="in" result="dkin"/><feMerge><feMergeNode in="shape"/><feMergeNode in="dkin"/><feMergeNode in="spin"/></feMerge></filter>
<clipPath id="gclip1"><rect x="1054.1" y="1355.3" width="184" height="189.8"/></clipPath>
<g clip-path="url(#gclip1)">
<rect x="1054.1" y="1355.3" width="184" height="189.8" fill="#f1efed" stroke="none" stroke-width="1" />
<rect x="1054.1" y="1355.2" width="30" height="190" fill="#eeecea" stroke="none" stroke-width="1" />
<rect x="1200" y="1355.2" width="38" height="190" fill="#f4f3f1" stroke="none" stroke-width="1" />
<clipPath id="gc1"><polygon points="1136.44,1356.85 1158.55,1357.74 1180.66,1364.37 1202.76,1377.64 1220.45,1396.43 1232.61,1420.75 1237.59,1449.49 1234.82,1477.13 1224.87,1504.76 1210.5,1525.77 1197.24,1540.14 1186.18,1547.88 1114.33,1547.88 1101.06,1537.93 1084.48,1522.45 1073.43,1504.76 1062.37,1482.66 1057.95,1460.55 1056.29,1434.02 1060.16,1411.91 1070.11,1392.01 1085.59,1375.43 1103.27,1364.37 1119.85,1358.84"/></clipPath>
<g filter="url(#tex1)">
<g clip-path="url(#gc1)">
<rect x="1050" y="1350" width="195" height="200" fill="#bf886c"/>
<ellipse cx="1214" cy="1445" rx="38" ry="78" fill="#d6bcab" opacity="0.8" filter="url(#blur9)"/>
<ellipse cx="1118" cy="1398" rx="44" ry="30" fill="#b87459" opacity="0.5" filter="url(#blur9)"/>
<ellipse cx="1135" cy="1505" rx="30" ry="30" fill="#b87459" opacity="0.5" filter="url(#blur9)"/>
<path d="M1062.37,1438.44 L1073.43,1431.8 L1090.01,1438.44 L1098.85,1460.55 L1103.27,1488.18 L1109.91,1513.61 L1123.17,1520.24 L1133.12,1526.87 L1136.44,1544.56" stroke="#d0d1d6" stroke-width="11" fill="none" stroke-linecap="round" stroke-linejoin="round" opacity="0.95" filter="url(#blur2)"/>
<path d="M1062.37,1440.65 L1064.58,1471.6 L1073.43,1499.24 L1084.48,1513.61" stroke="#d3d3d8" stroke-width="9" fill="none" stroke-linecap="round" stroke-linejoin="round" opacity="0.9" filter="url(#blur2)"/>
</g></g>
<g clip-path="url(#gc1)">
<ellipse cx="1082.49" cy="1463.86" rx="9.5" ry="27" transform="rotate(-14 1082.49 1463.86)" fill="#f6f2ef"/>
<ellipse cx="1085.03" cy="1472.71" rx="5" ry="18" transform="rotate(-12 1085.03 1472.71)" fill="#e8cdbf" opacity="0.9"/>
<polygon points="1109.91,1522.45 1127.59,1520.24 1129.8,1537.93 1118.75,1547.88 1107.69,1537.93" fill="#f5f1ee"/>
<polygon points="1136.99,1421.85 1139.75,1422.96 1145.28,1438.44 1149.7,1452.81 1153.02,1460.55 1157.44,1473.81 1160.76,1489.29 1158.55,1493.71 1154.12,1490.39 1147.49,1477.13 1143.07,1466.07 1144.18,1456.12 1140.86,1438.44" fill="#f6f1ee"/>
<polygon points="1199.45,1440.65 1204.98,1442.86 1213.82,1451.7 1218.24,1459.44 1213.82,1461.65 1206.08,1455.02 1200.55,1447.28" fill="#f2e9e3" opacity="0.95"/>
<path d="M1106.59,1411.91 L1112.12,1434.02 L1114.33,1449.49 L1109.91,1471.6 L1105.48,1488.18" stroke="#e6d3c8" stroke-width="1.7" fill="none" opacity="0.85"/>
<path d="M1115.43,1452.81 L1125.38,1451.7 L1136.44,1453.36 L1144.18,1456.12" stroke="#e6d3c8" stroke-width="1.8" fill="none" opacity="0.85"/>
<path d="M1160.76,1493.71 L1169.6,1515.82 L1175.13,1537.93" stroke="#ead9cf" stroke-width="1.3" fill="none" opacity="0.7"/>
</g>
<path d="M1107.69,1545.67 L1109.91,1533.51 L1103.27,1524.66 L1095.53,1513.61 L1092.22,1502.55 L1095.53,1494.82 L1103.27,1490.61 L1112.12,1489.84 L1123.17,1492.05 L1134.23,1498.68 L1143.07,1509.19 L1149.7,1522.45 L1156.34,1535.72 L1165.18,1545.67" stroke="#2a2523" stroke-width="1.15" fill="none" stroke-linejoin="round"/>
</g>
<filter id="tex2" x="-5%" y="-5%" width="110%" height="110%" color-interpolation-filters="sRGB"><feTurbulence type="fractalNoise" baseFrequency="0.12" numOctaves="2" seed="18" result="e"/><feDisplacementMap in="SourceGraphic" in2="e" scale="3" xChannelSelector="R" yChannelSelector="G" result="shape"/><feTurbulence type="fractalNoise" baseFrequency="0.5" numOctaves="3" seed="11" result="n"/><feColorMatrix in="n" type="matrix" values="0 0 0 0 0.953  0 0 0 0 0.906  0 0 0 0 0.878  2.200 0 0 0 -0.980" result="sp"/><feComposite in="sp" in2="shape" operator="in" result="spin"/><feColorMatrix in="n" type="matrix" values="0 0 0 0 0.490  0 0 0 0 0.267  0 0 0 0 0.192  0 2.400 0 0 -0.950" result="dk"/><feComposite in="dk" in2="shape" operator="in" result="dkin"/><feMerge><feMergeNode in="shape"/><feMergeNode in="dkin"/><feMergeNode in="spin"/></feMerge></filter>
<clipPath id="gclip2"><rect x="1247.2" y="1355.3" width="178.7" height="189.9"/></clipPath>
<g clip-path="url(#gclip2)">
<rect x="1247.2" y="1355.3" width="178.7" height="189.9" fill="#f2f0ee" stroke="none" stroke-width="1" />
<rect x="1247.2" y="1355.3" width="40" height="190" fill="#efedeb" stroke="none" stroke-width="1" />
<clipPath id="gc2"><polygon points="1315.4,1354.31 1347.71,1354.85 1380.03,1366.16 1401.57,1385.55 1416.65,1410.32 1423.11,1436.17 1422.03,1463.1 1416.65,1490.03 1408.03,1511.57 1399.41,1526.65 1380.03,1537.42 1369.25,1544.96 1326.17,1545.5 1308.94,1543.88 1296.01,1533.11 1283.08,1522.34 1266.93,1506.18 1256.16,1487.87 1249.69,1473.87 1248.08,1446.94 1249.69,1420.01 1259.39,1395.24 1275.55,1375.85 1293.86,1362.93"/></clipPath>
<g filter="url(#tex2)">
<g clip-path="url(#gc2)">
<rect x="1240" y="1350" width="195" height="200" fill="#a56b57"/>
<ellipse cx="1320" cy="1425" rx="50" ry="36" fill="#9b5d48" opacity="0.55" filter="url(#blur9)"/>
<ellipse cx="1385" cy="1395" rx="26" ry="36" fill="#c9a595" opacity="0.45" filter="url(#blur9)"/>
<ellipse cx="1300" cy="1520" rx="40" ry="20" fill="#b98672" opacity="0.45" filter="url(#blur9)"/>
<ellipse cx="1256" cy="1459" rx="6" ry="12" fill="#35160d" opacity="0.9" filter="url(#blur2)"/>
<ellipse cx="1406" cy="1460" rx="6" ry="15" fill="#3c1a10" opacity="0.8" filter="url(#blur2)"/>
<path d="M1349.87,1482.49 L1363.87,1490.03 L1374.64,1506.18 L1390.8,1522.34 L1399.41,1533.11" stroke="#3d1b10" stroke-width="2.4" fill="none"/>
<path d="M1374.64,1506.18 L1370.33,1526.65 L1368.18,1541.73" stroke="#3d1b10" stroke-width="1.6" fill="none"/>
<polygon points="1378.95,1511.57 1389.72,1518.03 1390.8,1526.65 1383.26,1526.65 1376.79,1518.03" fill="#f3ece8"/>
<path d="M1268.01,1479.25 L1276.62,1480.87 L1285.24,1483.56" stroke="#f1e6e0" stroke-width="2.2" fill="none"/>
<path d="M1361.71,1466.33 L1369.25,1469.56 L1373.56,1467.41" stroke="#f1e6e0" stroke-width="1.6" fill="none" opacity="0.9"/>
<path d="M1332.63,1542.8 L1347.71,1533.11 L1363.87,1538.5" stroke="#f1e6e0" stroke-width="1.5" fill="none" opacity="0.85"/>
<path d="M1300.32,1440.48 L1308.94,1446.94 L1317.55,1448.02 L1326.17,1444.79" stroke="#ead9cf" stroke-width="1.3" fill="none" opacity="0.8"/>
<path d="M1306.78,1466.33 L1315.4,1471.71 L1321.86,1479.25" stroke="#ead9cf" stroke-width="1.2" fill="none" opacity="0.7"/>
</g></g>
<path d="M1247,1484.1 L1256.16,1492.18 L1266.93,1500.8 L1275.55,1510.49 L1285.24,1518.03 L1296.01,1521.8 L1310.01,1522.88 L1326.17,1520.19 L1334.79,1515.88 L1341.25,1509.41" stroke="#2d2421" stroke-width="1.2" fill="none" stroke-linejoin="round"/>
<path d="M1321.86,1526.65 L1320.78,1533.11 L1315.4,1540.65 L1308.94,1544.42" stroke="#2d2421" stroke-width="1.1" fill="none"/>
</g>
<filter id="tex3" x="-5%" y="-5%" width="110%" height="110%" color-interpolation-filters="sRGB"><feTurbulence type="fractalNoise" baseFrequency="0.12" numOctaves="2" seed="12" result="e"/><feDisplacementMap in="SourceGraphic" in2="e" scale="3" xChannelSelector="R" yChannelSelector="G" result="shape"/><feTurbulence type="fractalNoise" baseFrequency="0.36" numOctaves="3" seed="5" result="n"/><feColorMatrix in="n" type="matrix" values="0 0 0 0 0.667  0 0 0 0 0.741  0 0 0 0 0.824  3.200 0 0 0 -1.300" result="sp"/><feComposite in="sp" in2="shape" operator="in" result="spin"/><feColorMatrix in="n" type="matrix" values="0 0 0 0 0.725  0 0 0 0 0.541  0 0 0 0 0.471  0 3.200 0 0 -1.350" result="dk"/><feComposite in="dk" in2="shape" operator="in" result="dkin"/><feMerge><feMergeNode in="shape"/><feMergeNode in="dkin"/><feMergeNode in="spin"/></feMerge></filter>
<clipPath id="gclip3"><rect x="1436.2" y="1355" width="178.4" height="190"/></clipPath>
<g clip-path="url(#gclip3)">
<rect x="1436.2" y="1355" width="178.4" height="190" fill="#eeeeed" stroke="none" stroke-width="1" />
<clipPath id="gc3"><ellipse cx="1524.6" cy="1450.5" rx="88" ry="94.5"/></clipPath>
<g filter="url(#tex3)">
<g clip-path="url(#gc3)">
<rect x="1430" y="1350" width="195" height="200" fill="#c0adab"/>
<ellipse cx="1490" cy="1420" rx="40" ry="40" fill="#c9a798" opacity="0.45" filter="url(#blur9)"/>
<ellipse cx="1570" cy="1500" rx="36" ry="30" fill="#b9c6d6" opacity="0.5" filter="url(#blur9)"/>
<path d="M1500,1468 C1520,1478 1545,1490 1584,1498" stroke="#e6e6ea" stroke-width="3" fill="none" opacity="0.6" filter="url(#blur2)"/>
<ellipse cx="1560" cy="1425" rx="6" ry="13" transform="rotate(-35 1560 1425)" fill="#ecebee" opacity="0.6" filter="url(#blur2)"/>
</g></g>
</g>
<filter id="tex4" x="-5%" y="-5%" width="110%" height="110%" color-interpolation-filters="sRGB"><feTurbulence type="fractalNoise" baseFrequency="0.15" numOctaves="2" seed="28" result="e"/><feDisplacementMap in="SourceGraphic" in2="e" scale="3" xChannelSelector="R" yChannelSelector="G" result="shape"/><feTurbulence type="fractalNoise" baseFrequency="0.62" numOctaves="3" seed="21" result="n"/><feColorMatrix in="n" type="matrix" values="0 0 0 0 0.957  0 0 0 0 0.902  0 0 0 0 0.871  2.600 0 0 0 -1.100" result="sp"/><feComposite in="sp" in2="shape" operator="in" result="spin"/><feColorMatrix in="n" type="matrix" values="0 0 0 0 0.592  0 0 0 0 0.314  0 0 0 0 0.184  0 2.000 0 0 -0.850" result="dk"/><feComposite in="dk" in2="shape" operator="in" result="dkin"/><feMerge><feMergeNode in="shape"/><feMergeNode in="dkin"/><feMergeNode in="spin"/></feMerge></filter>
<clipPath id="gclip4"><rect x="1057.2" y="1549.2" width="180.8" height="189.8"/></clipPath>
<g clip-path="url(#gclip4)">
<rect x="1057.2" y="1549.2" width="180.8" height="189.8" fill="#f2f1ef" stroke="none" stroke-width="1" />
<rect x="1100" y="1549.1" width="60" height="190" fill="#f5f4f2" stroke="none" stroke-width="1" />
<clipPath id="gc4"><ellipse cx="1147.2" cy="1644.0" rx="89.6" ry="94"/></clipPath>
<g filter="url(#tex4)">
<g clip-path="url(#gc4)">
<rect x="1050" y="1545" width="195" height="200" fill="#b16546"/>
<ellipse cx="1147" cy="1644" rx="60" ry="64" fill="#b86e50" opacity="0.5" filter="url(#blur9)"/>
</g></g>
<g clip-path="url(#gc4)">
<polygon points="1107.48,1591.43 1111.91,1611.33 1109.69,1629.02 1105.27,1647.81 1097.53,1654.44 1093.11,1647.81 1096.43,1633.44 1101.96,1620.17 1106.38,1606.91" fill="#e0d3ce" opacity="0.92" filter="url(#blur2)"/>
<polygon points="1137.33,1677.66 1139.54,1680.97 1137.33,1699.76 1132.91,1705.29 1130.7,1699.76 1134.02,1686.5" fill="#ddd0ca" opacity="0.85" filter="url(#blur2)"/>
<path d="M1080.95,1613.54 L1079.85,1631.23" stroke="#ecdcd4" stroke-width="1.6" fill="none" opacity="0.9"/>
<path d="M1138.44,1599.17 L1140.1,1615.75" stroke="#ecdcd4" stroke-width="1.8" fill="none" opacity="0.9"/>
<path d="M1138.44,1659.97 L1137.55,1677.66" stroke="#ecdcd4" stroke-width="1.8" fill="none" opacity="0.9"/>
<path d="M1167.18,1559.37 L1162.76,1575.95 L1159.44,1588.11" stroke="#f1e3dc" stroke-width="1.9" fill="none"/>
<path d="M1194.82,1577.06 L1190.39,1592.53" stroke="#f1e3dc" stroke-width="1.7" fill="none"/>
<path d="M1220.24,1617.96 L1218.03,1633.44 L1215.82,1644.49" stroke="#e6d3ca" stroke-width="3" fill="none" opacity="0.75"/>
<path d="M1173.81,1650.02 L1171.6,1666.6" stroke="#f1e3dc" stroke-width="1.6" fill="none"/>
<polygon points="1151.7,1655.55 1156.12,1664.39 1149.49,1664.39" fill="#e6d6cf" opacity="0.9"/>
</g>
</g>
<filter id="tex5" x="-5%" y="-5%" width="110%" height="110%" color-interpolation-filters="sRGB"><feTurbulence type="fractalNoise" baseFrequency="0.14" numOctaves="2" seed="16" result="e"/><feDisplacementMap in="SourceGraphic" in2="e" scale="4" xChannelSelector="R" yChannelSelector="G" result="shape"/><feTurbulence type="fractalNoise" baseFrequency="0.5" numOctaves="3" seed="9" result="n"/><feColorMatrix in="n" type="matrix" values="0 0 0 0 0.933  0 0 0 0 0.941  0 0 0 0 0.957  2.800 0 0 0 -1.120" result="sp"/><feComposite in="sp" in2="shape" operator="in" result="spin"/><feColorMatrix in="n" type="matrix" values="0 0 0 0 0.400  0 0 0 0 0.447  0 0 0 0 0.561  0 2.200 0 0 -0.950" result="dk"/><feComposite in="dk" in2="shape" operator="in" result="dkin"/><feMerge><feMergeNode in="shape"/><feMergeNode in="dkin"/><feMergeNode in="spin"/></feMerge></filter>
<clipPath id="gclip5"><rect x="1247.4" y="1549.2" width="172.8" height="188.1"/></clipPath>
<g clip-path="url(#gclip5)">
<rect x="1247.4" y="1549.2" width="172.8" height="188.1" fill="#f0f0ef" stroke="none" stroke-width="1" />
<rect x="1247.4" y="1549.2" width="55" height="190" fill="#eeeeee" stroke="none" stroke-width="1" />
<linearGradient id="g5" gradientUnits="userSpaceOnUse" x1="1255" y1="1600" x2="1420" y2="1690"><stop offset="0" stop-color="#879dc0"/><stop offset="0.5" stop-color="#8194b4"/><stop offset="0.68" stop-color="#7f8298"/><stop offset="1" stop-color="#7a6f7d"/></linearGradient>
<g filter="url(#tex5)">
<polygon points="1317.55,1555.77 1332.63,1555.23 1336.94,1562.23 1342.33,1575.16 1349.87,1588.08 1357.41,1605.32 1361.71,1620.4 1367.1,1626.86 1375.72,1634.4 1383.26,1639.79 1390.8,1652.71 1388.64,1657.02 1380.03,1661.33 1369.25,1664.56 1374.64,1668.87 1388.64,1671.02 1399.41,1662.41 1412.34,1663.48 1418.8,1669.95 1416.65,1685.03 1408.03,1697.95 1397.26,1709.8 1383.26,1713.03 1378.95,1717.34 1367.1,1721.65 1358.48,1728.11 1336.94,1734.57 1315.4,1728.11 1296.01,1719.49 1275.55,1706.57 1261.54,1690.41 1254,1668.87 1254,1641.94 1255.08,1615.01 1263.7,1596.7 1275.55,1585.93 1288.47,1573.01 1302.47,1564.39" fill="url(#g5)"/>
<polygon points="1361.71,1565.47 1369.25,1561.16 1378.95,1566.54 1378.95,1577.31 1371.41,1581.62 1364.95,1577.31" fill="#82839a"/>
<polygon points="1364.95,1592.39 1374.64,1588.08 1386.49,1588.08 1399.41,1596.7 1403.72,1605.32 1398.34,1611.78 1388.64,1609.63 1380.03,1613.94 1374.64,1609.63 1368.18,1605.32" fill="#7f7c8e"/>
<polygon points="1362.79,1608.55 1369.25,1611.78 1380.03,1622.55 1384.33,1633.32 1380.03,1636.56 1369.25,1626.86 1363.87,1618.24" fill="#76656f"/>
<polygon points="1396.18,1620.4 1403.72,1616.09 1408.03,1626.86 1418.8,1631.17 1420.96,1641.94 1418.8,1659.17 1410.19,1661.33 1399.41,1654.87 1392.95,1641.94 1394.03,1629.02" fill="#7b7080"/>
</g>
<path d="M1300.32,1580.55 L1285.24,1611.78 L1272.31,1641.94 L1264.77,1663.48" stroke="#eef0f3" stroke-width="1.5" fill="none" opacity="0.9"/>
<path d="M1352.02,1662.41 L1348.79,1677.49 L1328.32,1693.64 L1326.17,1703.34" stroke="#eceef2" stroke-width="1.8" fill="none" opacity="0.9"/>
<path d="M1315.4,1689.33 L1310.01,1704.41 L1308.94,1713.03" stroke="#eceef2" stroke-width="1.4" fill="none" opacity="0.9"/>
<path d="M1356.33,1620.4 L1359.56,1636.56 L1357.41,1648.4" stroke="#a9c0de" stroke-width="3" fill="none" opacity="0.75"/>
<path d="M1326.17,1573.01 L1334.79,1577.31 L1340.17,1588.08" stroke="#b9cde6" stroke-width="3.5" fill="none" opacity="0.7"/>
</g>
<filter id="tex6" x="-5%" y="-5%" width="110%" height="110%" color-interpolation-filters="sRGB"><feTurbulence type="fractalNoise" baseFrequency="0.16" numOctaves="2" seed="21" result="e"/><feDisplacementMap in="SourceGraphic" in2="e" scale="5" xChannelSelector="R" yChannelSelector="G" result="shape"/><feTurbulence type="fractalNoise" baseFrequency="0.5" numOctaves="3" seed="14" result="n"/><feColorMatrix in="n" type="matrix" values="0 0 0 0 0.914  0 0 0 0 0.933  0 0 0 0 0.961  2.700 0 0 0 -1.200" result="sp"/><feComposite in="sp" in2="shape" operator="in" result="spin"/><feColorMatrix in="n" type="matrix" values="0 0 0 0 0.227  0 0 0 0 0.345  0 0 0 0 0.588  0 2.200 0 0 -0.950" result="dk"/><feComposite in="dk" in2="shape" operator="in" result="dkin"/><feMerge><feMergeNode in="shape"/><feMergeNode in="dkin"/><feMergeNode in="spin"/></feMerge></filter>
<clipPath id="gclip6"><rect x="1437" y="1549.1" width="169.7" height="188.3"/></clipPath>
<g clip-path="url(#gclip6)">
<rect x="1437" y="1549.1" width="169.7" height="188.3" fill="#ebeef1" stroke="none" stroke-width="1" />
<rect x="1578" y="1549" width="29" height="190" fill="#eef0f2" stroke="none" stroke-width="1" />
<g filter="url(#tex6)">
<polygon points="1505.4,1549.31 1526.94,1549.31 1543.1,1552.54 1559.25,1556.85 1572.18,1565.47 1579.72,1571.93 1577.57,1577.31 1567.87,1576.24 1559.25,1573.01 1566.79,1585.93 1575.41,1601.01 1582.95,1613.94 1585.11,1622.55 1578.64,1626.86 1574.33,1634.4 1577.57,1645.17 1570.03,1641.94 1559.25,1633.32 1551.71,1627.94 1559.25,1641.94 1562.49,1654.87 1551.71,1662.41 1539.87,1672.1 1553.87,1663.48 1570.03,1662.41 1584.03,1668.87 1595.88,1679.64 1602.34,1687.18 1598.03,1695.8 1589.41,1703.34 1580.8,1713.03 1567.87,1722.73 1553.87,1729.19 1537.71,1731.34 1521.56,1731.34 1505.4,1727.03 1490.32,1721.65 1475.24,1713.03 1462.31,1701.18 1451.54,1685.03 1448.31,1676.41 1458.01,1663.48 1466.62,1650.56 1471.47,1631.17 1474.16,1615.01 1469.31,1593.47 1467.7,1585.93 1475.24,1577.31 1483.86,1566.54 1494.63,1556.85" fill="#5176b0"/>
<polygon points="1454.77,1605.32 1465.55,1603.16 1469.31,1613.94 1467.7,1631.17 1463.93,1648.4 1454.77,1661.33 1447.23,1659.17 1445.08,1647.33 1447.23,1626.86 1450.47,1613.94" fill="#5176b0"/>
<polygon points="1585.11,1613.94 1598.03,1613.94 1604.49,1620.4 1606.65,1639.79 1598.03,1633.32 1589.41,1626.86 1585.11,1622.55" fill="#587cb4"/>
<polygon points="1600.19,1662.41 1606.65,1662.41 1606.65,1672.1 1601.26,1669.95" fill="#5f82b9"/>
<polygon points="1449.39,1598.86 1451.54,1595.62 1465.55,1577.31 1467.16,1579.47 1453.16,1598.86" fill="#5f82b9"/>
</g>
<path d="M1522.63,1661.33 L1521.56,1672.1 L1517.25,1683.95 L1516.17,1689.33" stroke="#e6ebf2" stroke-width="1.6" fill="none"/>
<path d="M1536.64,1580.55 L1538.79,1590.24 L1537.71,1592.39" stroke="#e6ebf2" stroke-width="1.8" fill="none" opacity="0.9"/>
<path d="M1563.56,1693.64 L1573.26,1703.34 L1582.95,1708.72" stroke="#e6ebf2" stroke-width="1.2" fill="none" opacity="0.8"/>
<path d="M1537.71,1673.18 L1554.95,1661.33" stroke="#24335a" stroke-width="1" fill="none"/>
<path d="M1568.95,1663.48 L1580.8,1665.64 L1590.49,1672.1 L1594.8,1679.64" stroke="#24335a" stroke-width="1.3" fill="none"/>
<path d="M1582.95,1613.94 L1585.11,1622.55" stroke="#24335a" stroke-width="1.3" fill="none"/>
<path d="M1467.7,1588.08 L1470.93,1596.7" stroke="#2c3f6e" stroke-width="1.1" fill="none"/>
</g>
<rect x="1577.1" y="1728.1" width="18.5" height="3.1" fill="#000" stroke="none" stroke-width="1" />
</g>
<g id="panel-h">
<text x="70.8" y="1777.4" font-family='"Liberation Serif", serif' font-size="72" text-anchor="start" fill="#000" font-weight="bold">h</text>
<line x1="132.6" y1="1764.8" x2="757.4" y2="1764.8" stroke="#222" stroke-width="1.4" />
<line x1="132.6" y1="1844.5" x2="757.4" y2="1844.5" stroke="#222" stroke-width="1.4" />
<line x1="132.6" y1="2082.8" x2="757.4" y2="2082.8" stroke="#222" stroke-width="1.4" />
<text x="413.2" y="1796.7" font-family='"Liberation Serif", serif' font-size="30" text-anchor="middle" fill="#000" >DLAT high</text>
<text x="413.4" y="1836.3" font-family='"Liberation Serif", serif' font-size="30" text-anchor="middle" fill="#000" >(n=37)</text>
<text x="643.2" y="1796.7" font-family='"Liberation Serif", serif' font-size="30" text-anchor="middle" fill="#000" >DLAT low</text>
<text x="643.4" y="1836.3" font-family='"Liberation Serif", serif' font-size="30" text-anchor="middle" fill="#000" >(n=21)</text>
<text x="215.4" y="1876" font-family='"Liberation Serif", serif' font-size="30" text-anchor="middle" fill="#000" >PD-L1</text>
<text x="215.8" y="1916" font-family='"Liberation Serif", serif' font-size="30" text-anchor="middle" fill="#000" >positive</text>
<text x="413.2" y="1895.8" font-family='"Liberation Serif", serif' font-size="30" text-anchor="middle" fill="#000" >22</text>
<text x="643.2" y="1895.8" font-family='"Liberation Serif", serif' font-size="30" text-anchor="middle" fill="#000" >7</text>
<text x="215.4" y="1954.8" font-family='"Liberation Serif", serif' font-size="30" text-anchor="middle" fill="#000" >PDL1</text>
<text x="215.8" y="1994.5" font-family='"Liberation Serif", serif' font-size="30" text-anchor="middle" fill="#000" >negative</text>
<text x="413.2" y="1975.5" font-family='"Liberation Serif", serif' font-size="30" text-anchor="middle" fill="#000" >15</text>
<text x="643.2" y="1975.5" font-family='"Liberation Serif", serif' font-size="30" text-anchor="middle" fill="#000" >14</text>
<text x="215.8" y="2034.5" font-family='"Liberation Serif", serif' font-size="30" text-anchor="middle" fill="#000"><tspan font-style="italic">χ</tspan>2</text>
<text x="528.2" y="2034.5" font-family='"Liberation Serif", serif' font-size="30" text-anchor="middle" fill="#000" >5.11</text>
<text x="213.5" y="2073.3" font-family='"Liberation Serif", serif' font-size="30" text-anchor="middle" fill="#000" font-style="italic">p</text>
<text x="528.2" y="2073.3" font-family='"Liberation Serif", serif' font-size="30" text-anchor="middle" fill="#000" >0.023</text>
<line x1="50.5" y1="1722.6" x2="54.5" y2="1721.8" stroke="#999" stroke-width="1" />
</g>
</svg>
</body></html>
